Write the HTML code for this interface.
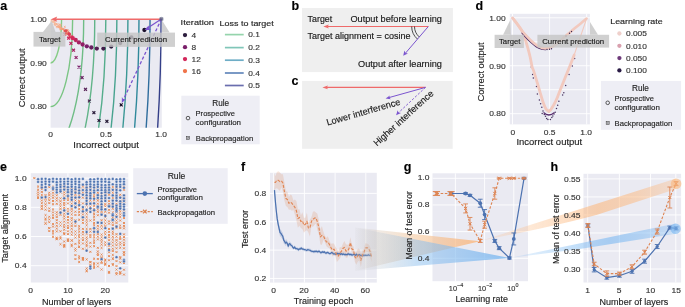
<!DOCTYPE html>
<html><head><meta charset="utf-8"><style>
html,body{margin:0;padding:0;background:#fff;width:685px;height:307px;overflow:hidden}
svg{display:block;will-change:transform}
text{font-family:"Liberation Sans",sans-serif;stroke:currentColor;stroke-width:0.14px;paint-order:stroke}
</style></head><body>
<svg width="685" height="307" viewBox="0 0 685 307" font-family='"Liberation Sans", sans-serif'><defs><clipPath id="clipA"><rect x="50.6" y="19.0" width="111.20000000000002" height="108.7"/></clipPath><linearGradient id="gO1" gradientUnits="userSpaceOnUse" x1="355" y1="0" x2="480" y2="0"><stop offset="0" stop-color="#c0c0c0" stop-opacity="0.04"/><stop offset="0.16" stop-color="#d4c4b4" stop-opacity="0.32"/><stop offset="0.45" stop-color="#f2c294" stop-opacity="0.52"/><stop offset="1" stop-color="#fbb57a" stop-opacity="0.8"/></linearGradient><linearGradient id="gB1" gradientUnits="userSpaceOnUse" x1="355" y1="0" x2="510" y2="0"><stop offset="0" stop-color="#c0c0c0" stop-opacity="0.04"/><stop offset="0.14" stop-color="#c0c8d0" stop-opacity="0.3"/><stop offset="0.4" stop-color="#8cbfee" stop-opacity="0.5"/><stop offset="1" stop-color="#78b6f0" stop-opacity="0.8"/></linearGradient><linearGradient id="gO2" gradientUnits="userSpaceOnUse" x1="480" y1="0" x2="676" y2="0"><stop offset="0" stop-color="#fcb77c" stop-opacity="0.15"/><stop offset="0.35" stop-color="#fcb77c" stop-opacity="0.38"/><stop offset="0.6" stop-color="#fcb77c" stop-opacity="0.58"/><stop offset="0.8" stop-color="#fcb77c" stop-opacity="0.5"/><stop offset="1" stop-color="#fcb77c" stop-opacity="0.3"/></linearGradient><linearGradient id="gB2" gradientUnits="userSpaceOnUse" x1="510" y1="0" x2="676" y2="0"><stop offset="0" stop-color="#7ab8f2" stop-opacity="0.15"/><stop offset="0.35" stop-color="#7ab8f2" stop-opacity="0.42"/><stop offset="0.6" stop-color="#7ab8f2" stop-opacity="0.6"/><stop offset="0.8" stop-color="#7ab8f2" stop-opacity="0.5"/><stop offset="1" stop-color="#7ab8f2" stop-opacity="0.3"/></linearGradient></defs><rect x="50.60" y="19.00" width="111.20" height="108.70" fill="#EAEAF2" />
<g clip-path="url(#clipA)"><ellipse cx="50.50" cy="19.40" rx="11.06" ry="43.60" fill="none" stroke="#86cc86" stroke-width="1.4"/><ellipse cx="50.50" cy="19.40" rx="22.12" ry="87.20" fill="none" stroke="#7bc584" stroke-width="1.4"/><ellipse cx="50.50" cy="19.40" rx="33.18" ry="130.80" fill="none" stroke="#6fbd86" stroke-width="1.4"/><ellipse cx="50.50" cy="19.40" rx="44.24" ry="174.40" fill="none" stroke="#62b489" stroke-width="1.4"/><ellipse cx="50.50" cy="19.40" rx="55.30" ry="218.00" fill="none" stroke="#55ad8c" stroke-width="1.4"/><ellipse cx="50.50" cy="19.40" rx="66.36" ry="261.60" fill="none" stroke="#48a38f" stroke-width="1.4"/><ellipse cx="50.50" cy="19.40" rx="77.42" ry="305.20" fill="none" stroke="#3b9895" stroke-width="1.4"/><ellipse cx="50.50" cy="19.40" rx="88.48" ry="348.80" fill="none" stroke="#30899b" stroke-width="1.4"/><ellipse cx="50.50" cy="19.40" rx="99.54" ry="392.40" fill="none" stroke="#2f6d9d" stroke-width="1.4"/><ellipse cx="50.50" cy="19.40" rx="110.60" ry="436.00" fill="none" stroke="#343f88" stroke-width="1.4"/></g>
<g clip-path="url(#clipA)"><path d="M63.78,30.11L65.58,31.91M63.78,31.91L65.58,30.11" stroke="#f28961" stroke-width="0.8" fill="none" stroke-opacity="0.85"/><path d="M67.41,30.39L69.21,32.19M67.41,32.19L69.21,30.39" stroke="#f0784e" stroke-width="0.8" fill="none" stroke-opacity="0.85"/><path d="M53.54,17.15L55.34,18.95M53.54,18.95L55.34,17.15" stroke="#f8be9d" stroke-width="0.8" fill="none" stroke-opacity="0.85"/><circle cx="69.27" cy="36.12" r="0.95" fill="#e35251" fill-opacity="0.85"/><path d="M60.75,27.63L62.55,29.43M60.75,29.43L62.55,27.63" stroke="#f5a17b" stroke-width="0.8" fill="none" stroke-opacity="0.85"/><circle cx="50.92" cy="21.18" r="0.95" fill="#f8bf9f" fill-opacity="0.85"/><circle cx="56.65" cy="26.62" r="0.95" fill="#f6ad89" fill-opacity="0.85"/><circle cx="68.56" cy="33.12" r="0.95" fill="#ed6c4c" fill-opacity="0.85"/><path d="M63.56,30.14L65.36,31.94M63.56,31.94L65.36,30.14" stroke="#f28a62" stroke-width="0.8" fill="none" stroke-opacity="0.85"/><circle cx="56.44" cy="23.95" r="0.95" fill="#f6b18f" fill-opacity="0.85"/><path d="M69.79,36.58L71.59,38.38M69.79,38.38L71.59,36.58" stroke="#dc3f55" stroke-width="0.8" fill="none" stroke-opacity="0.85"/><path d="M62.63,28.22L64.43,30.02M62.63,30.02L64.43,28.22" stroke="#f4966f" stroke-width="0.8" fill="none" stroke-opacity="0.85"/><path d="M54.25,24.31L56.05,26.11M54.25,26.11L56.05,24.31" stroke="#f6b28f" stroke-width="0.8" fill="none" stroke-opacity="0.85"/><circle cx="70.06" cy="34.97" r="0.95" fill="#e45451" fill-opacity="0.85"/><circle cx="59.31" cy="26.91" r="0.95" fill="#f6a883" fill-opacity="0.85"/><path d="M57.04,25.15L58.84,26.95M57.04,26.95L58.84,25.15" stroke="#f6ac88" stroke-width="0.8" fill="none" stroke-opacity="0.85"/><circle cx="52.06" cy="19.32" r="0.95" fill="#f8c0a0" fill-opacity="0.85"/><circle cx="68.92" cy="33.50" r="0.95" fill="#eb674d" fill-opacity="0.85"/><circle cx="59.99" cy="24.33" r="0.95" fill="#f6ab87" fill-opacity="0.85"/><circle cx="70.90" cy="36.98" r="0.95" fill="#dd4055" fill-opacity="0.85"/><path d="M65.96,32.39L67.76,34.19M65.96,34.19L67.76,32.39" stroke="#f0764c" stroke-width="0.8" fill="none" stroke-opacity="0.85"/><path d="M58.89,25.67L60.69,27.47M58.89,27.47L60.69,25.67" stroke="#f6a883" stroke-width="0.8" fill="none" stroke-opacity="0.85"/><path d="M50.47,19.54L52.27,21.34M50.47,21.34L52.27,19.54" stroke="#f8bf9f" stroke-width="0.8" fill="none" stroke-opacity="0.85"/><path d="M55.14,22.95L56.94,24.75M55.14,24.75L56.94,22.95" stroke="#f7b290" stroke-width="0.8" fill="none" stroke-opacity="0.85"/><circle cx="69.50" cy="36.92" r="0.95" fill="#e14b52" fill-opacity="0.85"/><path d="M62.12,28.23L63.92,30.03M62.12,30.03L63.92,28.23" stroke="#f49872" stroke-width="0.8" fill="none" stroke-opacity="0.85"/><path d="M53.40,21.06L55.20,22.86M53.40,22.86L55.20,21.06" stroke="#f7b897" stroke-width="0.8" fill="none" stroke-opacity="0.85"/><path d="M53.25,17.86L55.05,19.66M53.25,19.66L55.05,17.86" stroke="#f8bd9d" stroke-width="0.8" fill="none" stroke-opacity="0.85"/><path d="M53.64,20.02L55.44,21.82M53.64,21.82L55.44,20.02" stroke="#f7b998" stroke-width="0.8" fill="none" stroke-opacity="0.85"/><path d="M57.24,26.49L59.04,28.29M57.24,28.29L59.04,26.49" stroke="#f6a985" stroke-width="0.8" fill="none" stroke-opacity="0.85"/><circle cx="63.41" cy="29.47" r="0.95" fill="#f4956e" fill-opacity="0.85"/><circle cx="52.91" cy="22.16" r="0.95" fill="#f7ba99" fill-opacity="0.85"/><circle cx="65.32" cy="32.77" r="0.95" fill="#f17f56" fill-opacity="0.85"/><path d="M70.37,36.08L72.17,37.88M70.37,37.88L72.17,36.08" stroke="#db3d55" stroke-width="0.8" fill="none" stroke-opacity="0.85"/><path d="M59.45,26.62L61.25,28.42M59.45,28.42L61.25,26.62" stroke="#f5a580" stroke-width="0.8" fill="none" stroke-opacity="0.85"/><circle cx="60.26" cy="29.58" r="0.95" fill="#f5a27d" fill-opacity="0.85"/><circle cx="52.89" cy="21.13" r="0.95" fill="#f7bc9b" fill-opacity="0.85"/><circle cx="68.69" cy="34.49" r="0.95" fill="#e9624e" fill-opacity="0.85"/><path d="M64.57,33.29L66.37,35.09M64.57,35.09L66.37,33.29" stroke="#f1794f" stroke-width="0.8" fill="none" stroke-opacity="0.85"/><circle cx="54.63" cy="21.52" r="0.95" fill="#f7b897" fill-opacity="0.85"/><circle cx="54.79" cy="23.23" r="0.95" fill="#f7b593" fill-opacity="0.85"/><path d="M71.18,35.61L72.98,37.41M71.18,37.41L72.98,35.61" stroke="#da3a56" stroke-width="0.8" fill="none" stroke-opacity="0.85"/><path d="M71.12,34.84L72.92,36.64M71.12,36.64L72.92,34.84" stroke="#dc4055" stroke-width="0.8" fill="none" stroke-opacity="0.85"/><circle cx="61.57" cy="29.00" r="0.95" fill="#f59f79" fill-opacity="0.85"/><path d="M58.99,27.05L60.79,28.85M58.99,28.85L60.79,27.05" stroke="#f5a580" stroke-width="0.8" fill="none" stroke-opacity="0.85"/><path d="M69.21,36.42L71.01,38.22M69.21,38.22L71.01,36.42" stroke="#de4454" stroke-width="0.8" fill="none" stroke-opacity="0.85"/><circle cx="62.45" cy="28.80" r="0.95" fill="#f49c76" fill-opacity="0.85"/><path d="M66.33,33.16L68.13,34.96M66.33,34.96L68.13,33.16" stroke="#ee704b" stroke-width="0.8" fill="none" stroke-opacity="0.85"/><path d="M58.33,26.12L60.13,27.92M58.33,27.92L60.13,26.12" stroke="#f6a883" stroke-width="0.8" fill="none" stroke-opacity="0.85"/><path d="M65.92,29.24L67.72,31.04M65.92,31.04L67.72,29.24" stroke="#f2835a" stroke-width="0.8" fill="none" stroke-opacity="0.85"/><circle cx="59.80" cy="26.45" r="0.95" fill="#f6a883" fill-opacity="0.85"/><path d="M67.10,31.85L68.90,33.65M67.10,33.65L68.90,31.85" stroke="#f0734a" stroke-width="0.8" fill="none" stroke-opacity="0.85"/><path d="M56.13,25.87L57.93,27.67M56.13,27.67L57.93,25.87" stroke="#f6ac88" stroke-width="0.8" fill="none" stroke-opacity="0.85"/><path d="M51.48,18.55L53.28,20.35M51.48,20.35L53.28,18.55" stroke="#f8bf9f" stroke-width="0.8" fill="none" stroke-opacity="0.85"/><path d="M56.88,23.25L58.68,25.05M56.88,25.05L58.68,23.25" stroke="#f6af8b" stroke-width="0.8" fill="none" stroke-opacity="0.85"/><path d="M65.00,29.64L66.80,31.44M65.00,31.44L66.80,29.64" stroke="#f2865d" stroke-width="0.8" fill="none" stroke-opacity="0.85"/><path d="M59.26,24.52L61.06,26.32M59.26,26.32L61.06,24.52" stroke="#f6a984" stroke-width="0.8" fill="none" stroke-opacity="0.85"/><path d="M59.55,24.29L61.35,26.09M59.55,26.09L61.35,24.29" stroke="#f6a984" stroke-width="0.8" fill="none" stroke-opacity="0.85"/><path d="M69.14,33.22L70.94,35.02M69.14,35.02L70.94,33.22" stroke="#e65a4f" stroke-width="0.8" fill="none" stroke-opacity="0.85"/><path d="M63.89,25.97L65.69,27.77M63.89,27.77L65.69,25.97" stroke="#f49973" stroke-width="0.8" fill="none" stroke-opacity="0.85"/><circle cx="54.51" cy="24.29" r="0.95" fill="#f7b492" fill-opacity="0.85"/><path d="M66.71,29.37L68.51,31.17M66.71,31.17L68.51,29.37" stroke="#f17f56" stroke-width="0.8" fill="none" stroke-opacity="0.85"/><path d="M64.99,32.76L66.79,34.56M64.99,34.56L66.79,32.76" stroke="#f17950" stroke-width="0.8" fill="none" stroke-opacity="0.85"/><circle cx="64.07" cy="33.30" r="0.95" fill="#f2835a" fill-opacity="0.85"/><path d="M63.52,30.42L65.32,32.22M63.52,32.22L65.32,30.42" stroke="#f28961" stroke-width="0.8" fill="none" stroke-opacity="0.85"/><circle cx="53.60" cy="18.93" r="0.95" fill="#f8be9e" fill-opacity="0.85"/><path d="M60.58,26.72L62.38,28.52M60.58,28.52L62.38,26.72" stroke="#f5a37e" stroke-width="0.8" fill="none" stroke-opacity="0.85"/><circle cx="65.24" cy="30.67" r="0.95" fill="#f28860" fill-opacity="0.85"/><circle cx="61.67" cy="28.60" r="0.95" fill="#f5a17b" fill-opacity="0.85"/><circle cx="58.40" cy="26.19" r="0.95" fill="#f6ab86" fill-opacity="0.85"/><path d="M119.75,103.45L122.65,106.35M119.75,106.35L122.65,103.45" stroke="#1b102b" stroke-width="1.2" fill="none"/><path d="M105.45,119.85L108.35,122.75M105.45,122.75L108.35,119.85" stroke="#211532" stroke-width="1.2" fill="none"/><path d="M97.55,119.05L100.45,121.95M97.55,121.95L100.45,119.05" stroke="#271a38" stroke-width="1.2" fill="none"/><path d="M92.45,111.25L95.35,114.15M92.45,114.15L95.35,111.25" stroke="#2d1e3e" stroke-width="1.2" fill="none"/><path d="M87.95,99.55L90.85,102.45M87.95,102.45L90.85,99.55" stroke="#401e49" stroke-width="1.2" fill="none"/><path d="M84.05,87.85L86.95,90.75M84.05,90.75L86.95,87.85" stroke="#541e54" stroke-width="1.2" fill="none"/><path d="M80.65,76.15L83.55,79.05M80.65,79.05L83.55,76.15" stroke="#671f5f" stroke-width="1.2" fill="none"/><path d="M77.55,65.65L80.45,68.55M77.55,68.55L80.45,65.65" stroke="#7a1f6a" stroke-width="1.2" fill="none"/><path d="M74.65,56.05L77.55,58.95M74.65,58.95L77.55,56.05" stroke="#902166" stroke-width="1.2" fill="none"/><path d="M72.05,48.75L74.95,51.65M72.05,51.65L74.95,48.75" stroke="#a62362" stroke-width="1.2" fill="none"/><path d="M69.45,41.95L72.35,44.85M69.45,44.85L72.35,41.95" stroke="#bd255e" stroke-width="1.2" fill="none"/><path d="M67.15,36.75L70.05,39.65M67.15,39.65L70.05,36.75" stroke="#d3275a" stroke-width="1.2" fill="none"/><path d="M63.34,32.59L66.24,35.49M63.34,35.49L66.24,32.59" stroke="#da3a56" stroke-width="1.2" fill="none"/><circle cx="144.40" cy="30.00" r="2.15" fill="#1b102b"/><circle cx="131.40" cy="37.40" r="2.15" fill="#211532"/><circle cx="120.20" cy="43.00" r="2.15" fill="#271a38"/><circle cx="111.20" cy="46.60" r="2.15" fill="#2d1e3e"/><circle cx="103.40" cy="48.60" r="2.15" fill="#401e49"/><circle cx="96.80" cy="48.60" r="2.15" fill="#541e54"/><circle cx="91.30" cy="47.50" r="2.15" fill="#671f5f"/><circle cx="86.80" cy="46.30" r="2.15" fill="#7a1f6a"/><circle cx="82.60" cy="44.50" r="2.15" fill="#902166"/><circle cx="78.90" cy="42.40" r="2.15" fill="#a62362"/><circle cx="75.70" cy="40.00" r="2.15" fill="#bd255e"/><circle cx="72.80" cy="38.20" r="2.15" fill="#d3275a"/><circle cx="69.10" cy="34.12" r="1.8" fill="#da3a56"/><circle cx="65.66" cy="31.10" r="1.8" fill="#e24e52"/></g>
<line x1="56.00" y1="19.20" x2="161.40" y2="19.20" stroke="#ef6a6a" stroke-width="1.4" />
<path d="M50.9,19.2 L57.2,16.6 L56.0,19.2 L57.2,21.8 Z" fill="#ef6a6a" />
<line x1="161.40" y1="19.00" x2="146.50" y2="28.70" stroke="#7b55cf" stroke-width="1.3" />
<path d="M144.6,29.9 L148.6,25.6 L149.0,28.4 L151.3,29.9 Z" fill="#7b55cf" />
<line x1="161.40" y1="19.00" x2="123.00" y2="100.50" stroke="#7b55cf" stroke-width="1.3" stroke-dasharray="3.2,2"/>
<path d="M121.8,102.9 L121.9,97.0 L123.4,99.5 L126.2,99.0 Z" fill="#7b55cf" />
<path d="M160.10,17.70 L162.70,20.30 M160.10,20.30 L162.70,17.70" fill="none" stroke="#555a7a" stroke-width="1.0" />
<circle cx="161.40" cy="19.00" r="1.6" fill="none" stroke="#555a7a" stroke-width="0.8"/>
<path d="M43.0,32.0 L51.7,20.8 L55.5,32.0 Z" fill="rgba(198,198,198,0.82)" />
<rect x="33.50" y="31.90" width="31.90" height="14.70" fill="rgba(198,198,198,0.82)" />
<path d="M162.0,32.6 L162.0,20.2 L169.6,32.6 Z" fill="rgba(198,198,198,0.82)" />
<rect x="97.20" y="32.60" width="77.80" height="14.30" fill="rgba(198,198,198,0.82)" />
<circle cx="185.00" cy="35.10" r="2.15" fill="#2d1e3e" />
<circle cx="185.00" cy="47.20" r="2.15" fill="#7a1f6a" />
<circle cx="185.00" cy="59.10" r="2.15" fill="#d3275a" />
<circle cx="185.00" cy="71.10" r="2.15" fill="#f0744a" />
<line x1="224.90" y1="34.60" x2="243.70" y2="34.60" stroke="#95d4ac" stroke-width="1.7" />
<line x1="224.90" y1="47.60" x2="243.70" y2="47.60" stroke="#80c6b8" stroke-width="1.7" />
<line x1="224.90" y1="60.20" x2="243.70" y2="60.20" stroke="#6eadc6" stroke-width="1.7" />
<line x1="224.90" y1="73.00" x2="243.70" y2="73.00" stroke="#6287bb" stroke-width="1.7" />
<line x1="224.90" y1="85.50" x2="243.70" y2="85.50" stroke="#6a6eae" stroke-width="1.7" />
<rect x="181.30" y="95.70" width="78.40" height="48.60" fill="#eeeef5" />
<circle cx="188.00" cy="118.10" r="1.8" fill="none" stroke="#333" stroke-width="0.8"/>
<rect x="186.60" y="136.40" width="3.00" height="3.00" fill="none" stroke="#444" stroke-width="0.6"/>
<path d="M187.10,136.90 L189.10,138.90 M187.10,138.90 L189.10,136.90" fill="none" stroke="#444" stroke-width="0.5" />
<rect x="302.00" y="8.00" width="150.90" height="64.10" fill="#efefef" />
<line x1="327.50" y1="26.50" x2="428.30" y2="26.50" stroke="#ef6a6a" stroke-width="1.1" />
<path d="M323.3,26.5 L328.8,24.6 L327.8,26.5 L328.8,28.4 Z" fill="#ef6a6a" />
<line x1="428.30" y1="26.50" x2="405.60" y2="53.00" stroke="#7b55cf" stroke-width="1.0" />
<path d="M403.2,55.8 L404.4,50.6 L405.5,52.9 L408.0,53.5 Z" fill="#7b55cf" />
<path d="M419.25,36.91 A13.8,13.8 0 0 1 414.50,26.50" fill="none" stroke="#222" stroke-width="0.8" />
<path d="M417.41,39.03 A16.6,16.6 0 0 1 411.70,26.50" fill="none" stroke="#222" stroke-width="0.8" />
<rect x="302.10" y="80.90" width="150.60" height="67.90" fill="#efefef" />
<line x1="326.50" y1="87.40" x2="425.50" y2="87.40" stroke="#ef6a6a" stroke-width="1.1" />
<path d="M322.4,87.4 L327.9,85.5 L326.9,87.4 L327.9,89.3 Z" fill="#ef6a6a" />
<line x1="425.50" y1="87.40" x2="388.60" y2="97.70" stroke="#7b55cf" stroke-width="1.0" />
<path d="M385.6,98.6 L389.9,95.4 L389.2,97.6 L390.8,99.3 Z" fill="#7b55cf" />
<line x1="425.50" y1="87.40" x2="398.40" y2="112.80" stroke="#7b55cf" stroke-width="0.9" stroke-dasharray="2.4,1.6"/>
<path d="M396.1,115.2 L397.6,110.3 L398.5,112.6 L401.0,112.9 Z" fill="#7b55cf" />
<rect x="509.80" y="13.80" width="80.10" height="110.60" fill="#EAEAF2" />
<line x1="512.50" y1="13.80" x2="512.50" y2="124.40" stroke="#ffffff" stroke-width="0.9" />
<line x1="549.60" y1="13.80" x2="549.60" y2="124.40" stroke="#ffffff" stroke-width="0.9" />
<line x1="586.70" y1="13.80" x2="586.70" y2="124.40" stroke="#ffffff" stroke-width="0.9" />
<line x1="509.80" y1="113.70" x2="589.90" y2="113.70" stroke="#ffffff" stroke-width="0.9" />
<line x1="509.80" y1="89.73" x2="589.90" y2="89.73" stroke="#ffffff" stroke-width="0.9" />
<line x1="509.80" y1="65.75" x2="589.90" y2="65.75" stroke="#ffffff" stroke-width="0.9" />
<line x1="509.80" y1="41.78" x2="589.90" y2="41.78" stroke="#ffffff" stroke-width="0.9" />
<line x1="509.80" y1="17.80" x2="589.90" y2="17.80" stroke="#ffffff" stroke-width="0.9" />
<circle cx="531.30" cy="67.00" r="0.75" fill="#4a3462" />
<circle cx="532.60" cy="74.40" r="0.75" fill="#4a3462" />
<circle cx="533.30" cy="78.00" r="0.75" fill="#4a3462" />
<circle cx="536.50" cy="86.60" r="0.75" fill="#4a3462" />
<circle cx="537.40" cy="93.90" r="0.75" fill="#4a3462" />
<circle cx="539.40" cy="100.00" r="0.75" fill="#4a3462" />
<circle cx="540.60" cy="103.70" r="0.75" fill="#4a3462" />
<circle cx="541.80" cy="107.30" r="0.75" fill="#4a3462" />
<circle cx="543.00" cy="111.00" r="0.75" fill="#4a3462" />
<circle cx="544.30" cy="114.60" r="0.75" fill="#4a3462" />
<circle cx="545.50" cy="116.30" r="0.75" fill="#4a3462" />
<circle cx="546.60" cy="118.60" r="0.75" fill="#4a3462" />
<circle cx="547.90" cy="119.50" r="0.75" fill="#4a3462" />
<circle cx="550.40" cy="119.50" r="0.75" fill="#4a3462" />
<circle cx="551.80" cy="117.60" r="0.75" fill="#4a3462" />
<circle cx="552.80" cy="115.90" r="0.75" fill="#4a3462" />
<circle cx="555.20" cy="112.20" r="0.75" fill="#4a3462" />
<circle cx="556.50" cy="108.50" r="0.75" fill="#4a3462" />
<circle cx="557.70" cy="105.30" r="0.75" fill="#4a3462" />
<circle cx="558.90" cy="101.20" r="0.75" fill="#4a3462" />
<circle cx="562.60" cy="95.10" r="0.75" fill="#4a3462" />
<circle cx="563.80" cy="92.70" r="0.75" fill="#4a3462" />
<circle cx="565.70" cy="85.40" r="0.75" fill="#4a3462" />
<circle cx="569.10" cy="74.40" r="0.75" fill="#4a3462" />
<circle cx="572.30" cy="65.90" r="0.75" fill="#4a3462" />
<circle cx="574.60" cy="58.50" r="0.75" fill="#4a3462" />
<circle cx="542.20" cy="113.50" r="0.75" fill="#4a3462" />
<circle cx="554.00" cy="114.00" r="0.75" fill="#4a3462" />
<path d="M512.60,18.00 C513.50,19.17 516.33,22.63 518.00,25.00 C519.67,27.37 521.38,29.78 522.60,32.20 C523.82,34.62 524.40,36.75 525.30,39.50 C526.20,42.25 527.17,45.65 528.00,48.70 C528.83,51.75 529.62,54.77 530.30,57.80 C530.98,60.83 531.57,64.80 532.10,66.90 C532.63,69.00 532.73,68.08 533.50,70.40 C534.27,72.72 535.65,77.32 536.70,80.80 C537.75,84.28 538.77,87.82 539.80,91.30 C540.83,94.78 541.87,98.75 542.90,101.70 C543.93,104.65 545.00,107.38 546.00,109.00 C547.00,110.62 548.42,111.00 548.90,111.40" fill="none" stroke="#f2c9be" stroke-width="2.8" stroke-linecap="round"/>
<path d="M574.20,55.00 C573.45,56.90 571.22,62.60 569.70,66.40 C568.18,70.20 566.63,74.00 565.10,77.80 C563.57,81.60 562.02,85.38 560.50,89.20 C558.98,93.02 557.52,97.45 556.00,100.70 C554.48,103.95 552.58,106.92 551.40,108.70 C550.22,110.48 549.32,110.95 548.90,111.40" fill="none" stroke="#f2c9be" stroke-width="2.8" stroke-linecap="round"/>
<path d="M586.60,18.60 C585.30,22.40 580.87,35.33 578.80,41.40 C576.73,47.47 574.97,52.73 574.20,55.00" fill="none" stroke="#f2c9be" stroke-width="1.1" />
<path d="M543.5,112.5 Q548.8,117.5 554.5,112.5" fill="none" stroke="#5a3070" stroke-width="1.2" />
<path d="M522.60,31.50 C523.23,32.23 524.88,34.27 526.40,35.90 C527.92,37.53 529.90,39.67 531.70,41.30 C533.50,42.93 535.45,44.60 537.20,45.70 C538.95,46.80 540.65,47.47 542.20,47.90 C543.75,48.33 545.78,48.23 546.50,48.30" fill="none" stroke="#4a2a66" stroke-width="2.6" transform="translate(-0.4,0.6)"/>
<path d="M512.60,18.00 C513.42,19.08 515.83,22.25 517.50,24.50 C519.17,26.75 521.12,29.60 522.60,31.50 C524.08,33.40 524.88,34.27 526.40,35.90 C527.92,37.53 529.90,39.67 531.70,41.30 C533.50,42.93 535.45,44.60 537.20,45.70 C538.95,46.80 540.65,47.47 542.20,47.90 C543.75,48.33 545.12,48.38 546.50,48.30 C547.88,48.22 549.00,48.02 550.50,47.40 C552.00,46.78 553.58,45.97 555.50,44.60 C557.42,43.23 559.83,41.03 562.00,39.20 C564.17,37.37 566.33,35.45 568.50,33.60 C570.67,31.75 572.92,29.83 575.00,28.10 C577.08,26.37 579.07,24.78 581.00,23.20 C582.93,21.62 585.67,19.37 586.60,18.60" fill="none" stroke="#f2c9be" stroke-width="2.6" stroke-linecap="round"/>
<circle cx="566.00" cy="36.00" r="0.7" fill="#3a2550" />
<circle cx="569.50" cy="33.20" r="0.7" fill="#3a2550" />
<circle cx="571.50" cy="31.50" r="0.7" fill="#3a2550" />
<circle cx="547.00" cy="49.50" r="0.7" fill="#3a2550" />
<circle cx="549.50" cy="49.30" r="0.7" fill="#3a2550" />
<circle cx="551.50" cy="48.80" r="0.7" fill="#3a2550" />
<rect x="494.60" y="34.80" width="29.30" height="13.20" fill="rgba(198,198,198,0.82)" />
<path d="M503.1,34.8 L510.3,20.0 L510.9,34.8 Z" fill="rgba(198,198,198,0.82)" />
<rect x="537.40" y="34.80" width="71.70" height="12.80" fill="rgba(198,198,198,0.82)" />
<path d="M590.0,34.8 L590.0,22.0 L598.0,34.8 Z" fill="rgba(198,198,198,0.82)" />
<circle cx="619.40" cy="33.50" r="2.15" fill="#efd0cb" />
<circle cx="619.40" cy="45.80" r="2.15" fill="#d9a0ae" />
<circle cx="619.40" cy="58.10" r="2.15" fill="#6e3a7a" />
<circle cx="619.40" cy="70.40" r="2.15" fill="#2a1b45" />
<rect x="600.90" y="80.90" width="80.20" height="48.90" fill="#eeeef5" />
<circle cx="607.70" cy="102.80" r="1.8" fill="none" stroke="#333" stroke-width="0.8"/>
<rect x="606.20" y="121.50" width="3.00" height="3.00" fill="none" stroke="#444" stroke-width="0.6"/>
<path d="M606.70,122.00 L608.70,124.00 M606.70,124.00 L608.70,122.00" fill="none" stroke="#444" stroke-width="0.5" />
<rect x="30.80" y="173.20" width="97.50" height="109.30" fill="#EAEAF2" />
<line x1="67.95" y1="173.20" x2="67.95" y2="282.50" stroke="#ffffff" stroke-width="0.9" />
<line x1="105.30" y1="173.20" x2="105.30" y2="282.50" stroke="#ffffff" stroke-width="0.9" />
<line x1="30.80" y1="265.70" x2="128.30" y2="265.70" stroke="#ffffff" stroke-width="0.9" />
<line x1="30.80" y1="236.50" x2="128.30" y2="236.50" stroke="#ffffff" stroke-width="0.9" />
<line x1="30.80" y1="207.30" x2="128.30" y2="207.30" stroke="#ffffff" stroke-width="0.9" />
<line x1="30.80" y1="178.10" x2="128.30" y2="178.10" stroke="#ffffff" stroke-width="0.9" />
<g stroke="#e68a55" stroke-width="1.0" fill="none"><path d="M33.38,177.15L35.29,179.05M33.38,179.05L35.29,177.15"/><path d="M37.12,185.63L39.02,187.53M37.12,187.53L39.02,185.63"/><path d="M37.12,188.83L39.02,190.73M37.12,190.73L39.02,188.83"/><path d="M37.12,191.53L39.02,193.43M37.12,193.43L39.02,191.53"/><path d="M37.12,193.70L39.02,195.60M37.12,195.60L39.02,193.70"/><path d="M37.12,196.97L39.02,198.87M37.12,198.87L39.02,196.97"/><path d="M37.12,196.38L39.02,198.28M37.12,198.28L39.02,196.38"/><path d="M40.85,186.20L42.76,188.10M40.85,188.10L42.76,186.20"/><path d="M40.85,188.28L42.76,190.18M40.85,190.18L42.76,188.28"/><path d="M40.85,191.01L42.76,192.91M40.85,192.91L42.76,191.01"/><path d="M40.85,194.02L42.76,195.92M40.85,195.92L42.76,194.02"/><path d="M40.85,196.59L42.76,198.49M40.85,198.49L42.76,196.59"/><path d="M40.85,199.51L42.76,201.41M40.85,201.41L42.76,199.51"/><path d="M40.85,202.22L42.76,204.12M40.85,204.12L42.76,202.22"/><path d="M40.85,205.10L42.76,207.00M40.85,207.00L42.76,205.10"/><path d="M40.85,207.59L42.76,209.49M40.85,209.49L42.76,207.59"/><path d="M40.85,207.74L42.76,209.64M40.85,209.64L42.76,207.74"/><path d="M44.59,186.07L46.49,187.97M44.59,187.97L46.49,186.07"/><path d="M44.59,188.73L46.49,190.63M44.59,190.63L46.49,188.73"/><path d="M44.59,194.20L46.49,196.10M44.59,196.10L46.49,194.20"/><path d="M44.59,197.87L46.49,199.77M44.59,199.77L46.49,197.87"/><path d="M44.59,200.38L46.49,202.28M44.59,202.28L46.49,200.38"/><path d="M44.59,203.34L46.49,205.24M44.59,205.24L46.49,203.34"/><path d="M44.59,205.62L46.49,207.52M44.59,207.52L46.49,205.62"/><path d="M44.59,208.73L46.49,210.63M44.59,210.63L46.49,208.73"/><path d="M44.59,214.25L46.49,216.15M44.59,216.15L46.49,214.25"/><path d="M44.59,217.54L46.49,219.44M44.59,219.44L46.49,217.54"/><path d="M44.59,222.30L46.49,224.20M44.59,224.20L46.49,222.30"/><path d="M44.59,222.71L46.49,224.61M44.59,224.61L46.49,222.71"/><path d="M44.59,218.88L46.49,220.78M44.59,220.78L46.49,218.88"/><path d="M48.33,186.23L50.23,188.13M48.33,188.13L50.23,186.23"/><path d="M48.33,191.78L50.23,193.68M48.33,193.68L50.23,191.78"/><path d="M48.33,194.07L50.23,195.97M48.33,195.97L50.23,194.07"/><path d="M48.33,196.69L50.23,198.59M48.33,198.59L50.23,196.69"/><path d="M48.33,199.26L50.23,201.16M48.33,201.16L50.23,199.26"/><path d="M48.33,202.14L50.23,204.04M48.33,204.04L50.23,202.14"/><path d="M48.33,207.44L50.23,209.34M48.33,209.34L50.23,207.44"/><path d="M48.33,210.04L50.23,211.94M48.33,211.94L50.23,210.04"/><path d="M48.33,215.80L50.23,217.70M48.33,217.70L50.23,215.80"/><path d="M48.33,218.51L50.23,220.41M48.33,220.41L50.23,218.51"/><path d="M48.33,221.31L50.23,223.21M48.33,223.21L50.23,221.31"/><path d="M48.33,227.31L50.23,229.21M48.33,229.21L50.23,227.31"/><path d="M48.33,230.10L50.23,232.00M48.33,232.00L50.23,230.10"/><path d="M48.33,227.20L50.23,229.10M48.33,229.10L50.23,227.20"/><path d="M52.06,185.77L53.96,187.67M52.06,187.67L53.96,185.77"/><path d="M52.06,188.93L53.96,190.83M52.06,190.83L53.96,188.93"/><path d="M52.06,191.81L53.96,193.71M52.06,193.71L53.96,191.81"/><path d="M52.06,194.51L53.96,196.41M52.06,196.41L53.96,194.51"/><path d="M52.06,196.84L53.96,198.74M52.06,198.74L53.96,196.84"/><path d="M52.06,200.03L53.96,201.93M52.06,201.93L53.96,200.03"/><path d="M52.06,203.30L53.96,205.20M52.06,205.20L53.96,203.30"/><path d="M52.06,208.55L53.96,210.45M52.06,210.45L53.96,208.55"/><path d="M52.06,211.48L53.96,213.38M52.06,213.38L53.96,211.48"/><path d="M52.06,214.41L53.96,216.31M52.06,216.31L53.96,214.41"/><path d="M52.06,216.98L53.96,218.88M52.06,218.88L53.96,216.98"/><path d="M52.06,223.16L53.96,225.06M52.06,225.06L53.96,223.16"/><path d="M52.06,225.65L53.96,227.55M52.06,227.55L53.96,225.65"/><path d="M52.06,235.83L53.96,237.73M52.06,237.73L53.96,235.83"/><path d="M52.06,230.25L53.96,232.15M52.06,232.15L53.96,230.25"/><path d="M52.06,232.52L53.96,234.42M52.06,234.42L53.96,232.52"/><path d="M55.80,189.15L57.70,191.05M55.80,191.05L57.70,189.15"/><path d="M55.80,194.36L57.70,196.26M55.80,196.26L57.70,194.36"/><path d="M55.80,197.30L57.70,199.20M55.80,199.20L57.70,197.30"/><path d="M55.80,199.59L57.70,201.49M55.80,201.49L57.70,199.59"/><path d="M55.80,202.90L57.70,204.80M55.80,204.80L57.70,202.90"/><path d="M55.80,211.36L57.70,213.26M55.80,213.26L57.70,211.36"/><path d="M55.80,213.59L57.70,215.49M55.80,215.49L57.70,213.59"/><path d="M55.80,216.09L57.70,217.99M55.80,217.99L57.70,216.09"/><path d="M55.80,219.18L57.70,221.08M55.80,221.08L57.70,219.18"/><path d="M55.80,221.87L57.70,223.77M55.80,223.77L57.70,221.87"/><path d="M55.80,224.85L57.70,226.75M55.80,226.75L57.70,224.85"/><path d="M55.80,227.67L57.70,229.57M55.80,229.57L57.70,227.67"/><path d="M55.80,230.46L57.70,232.36M55.80,232.36L57.70,230.46"/><path d="M55.80,238.32L57.70,240.22M55.80,240.22L57.70,238.32"/><path d="M55.80,236.59L57.70,238.49M55.80,238.49L57.70,236.59"/><path d="M55.80,237.68L57.70,239.58M55.80,239.58L57.70,237.68"/><path d="M59.53,185.57L61.43,187.47M59.53,187.47L61.43,185.57"/><path d="M59.53,189.13L61.43,191.03M59.53,191.03L61.43,189.13"/><path d="M59.53,191.53L61.43,193.43M59.53,193.43L61.43,191.53"/><path d="M59.53,197.43L61.43,199.33M59.53,199.33L61.43,197.43"/><path d="M59.53,200.20L61.43,202.10M59.53,202.10L61.43,200.20"/><path d="M59.53,202.75L61.43,204.65M59.53,204.65L61.43,202.75"/><path d="M59.53,205.38L61.43,207.28M59.53,207.28L61.43,205.38"/><path d="M59.53,207.93L61.43,209.83M59.53,209.83L61.43,207.93"/><path d="M59.53,210.76L61.43,212.66M59.53,212.66L61.43,210.76"/><path d="M59.53,213.85L61.43,215.75M59.53,215.75L61.43,213.85"/><path d="M59.53,221.55L61.43,223.45M59.53,223.45L61.43,221.55"/><path d="M59.53,224.59L61.43,226.49M59.53,226.49L61.43,224.59"/><path d="M59.53,230.35L61.43,232.25M59.53,232.25L61.43,230.35"/><path d="M59.53,237.65L61.43,239.55M59.53,239.55L61.43,237.65"/><path d="M59.53,236.13L61.43,238.03M59.53,238.03L61.43,236.13"/><path d="M59.53,243.27L61.43,245.17M59.53,245.17L61.43,243.27"/><path d="M63.27,185.60L65.17,187.50M63.27,187.50L65.17,185.60"/><path d="M63.27,188.27L65.17,190.17M63.27,190.17L65.17,188.27"/><path d="M63.27,191.40L65.17,193.30M63.27,193.30L65.17,191.40"/><path d="M63.27,193.61L65.17,195.51M63.27,195.51L65.17,193.61"/><path d="M63.27,196.38L65.17,198.28M63.27,198.28L65.17,196.38"/><path d="M63.27,199.13L65.17,201.03M63.27,201.03L65.17,199.13"/><path d="M63.27,202.05L65.17,203.95M63.27,203.95L65.17,202.05"/><path d="M63.27,204.21L65.17,206.11M63.27,206.11L65.17,204.21"/><path d="M63.27,206.97L65.17,208.87M63.27,208.87L65.17,206.97"/><path d="M63.27,210.25L65.17,212.15M63.27,212.15L65.17,210.25"/><path d="M63.27,212.73L65.17,214.63M63.27,214.63L65.17,212.73"/><path d="M63.27,215.33L65.17,217.23M63.27,217.23L65.17,215.33"/><path d="M63.27,217.64L65.17,219.54M63.27,219.54L65.17,217.64"/><path d="M63.27,220.66L65.17,222.56M63.27,222.56L65.17,220.66"/><path d="M63.27,223.78L65.17,225.68M63.27,225.68L65.17,223.78"/><path d="M63.27,226.18L65.17,228.08M63.27,228.08L65.17,226.18"/><path d="M63.27,228.78L65.17,230.68M63.27,230.68L65.17,228.78"/><path d="M63.27,232.19L65.17,234.09M63.27,234.09L65.17,232.19"/><path d="M63.27,240.57L65.17,242.47M63.27,242.47L65.17,240.57"/><path d="M63.27,245.87L65.17,247.77M63.27,247.77L65.17,245.87"/><path d="M63.27,233.23L65.17,235.13M63.27,235.13L65.17,233.23"/><path d="M63.27,244.73L65.17,246.63M63.27,246.63L65.17,244.73"/><path d="M63.27,243.90L65.17,245.80M63.27,245.80L65.17,243.90"/><path d="M67.00,186.21L68.90,188.11M67.00,188.11L68.90,186.21"/><path d="M67.00,189.03L68.90,190.93M67.00,190.93L68.90,189.03"/><path d="M67.00,191.35L68.90,193.25M67.00,193.25L68.90,191.35"/><path d="M67.00,194.07L68.90,195.97M67.00,195.97L68.90,194.07"/><path d="M67.00,196.89L68.90,198.79M67.00,198.79L68.90,196.89"/><path d="M67.00,199.22L68.90,201.12M67.00,201.12L68.90,199.22"/><path d="M67.00,202.48L68.90,204.38M67.00,204.38L68.90,202.48"/><path d="M67.00,207.76L68.90,209.66M67.00,209.66L68.90,207.76"/><path d="M67.00,210.39L68.90,212.29M67.00,212.29L68.90,210.39"/><path d="M67.00,213.11L68.90,215.01M67.00,215.01L68.90,213.11"/><path d="M67.00,216.08L68.90,217.98M67.00,217.98L68.90,216.08"/><path d="M67.00,218.97L68.90,220.87M67.00,220.87L68.90,218.97"/><path d="M67.00,221.71L68.90,223.61M67.00,223.61L68.90,221.71"/><path d="M67.00,224.77L68.90,226.67M67.00,226.67L68.90,224.77"/><path d="M67.00,227.04L68.90,228.94M67.00,228.94L68.90,227.04"/><path d="M67.00,230.36L68.90,232.26M67.00,232.26L68.90,230.36"/><path d="M67.00,233.16L68.90,235.06M67.00,235.06L68.90,233.16"/><path d="M67.00,239.24L68.90,241.14M67.00,241.14L68.90,239.24"/><path d="M67.00,238.27L68.90,240.17M67.00,240.17L68.90,238.27"/><path d="M67.00,240.02L68.90,241.92M67.00,241.92L68.90,240.02"/><path d="M70.73,186.28L72.64,188.18M70.73,188.18L72.64,186.28"/><path d="M70.73,188.45L72.64,190.35M70.73,190.35L72.64,188.45"/><path d="M70.73,191.81L72.64,193.71M70.73,193.71L72.64,191.81"/><path d="M70.73,194.69L72.64,196.59M70.73,196.59L72.64,194.69"/><path d="M70.73,196.92L72.64,198.82M70.73,198.82L72.64,196.92"/><path d="M70.73,199.73L72.64,201.63M70.73,201.63L72.64,199.73"/><path d="M70.73,202.60L72.64,204.50M70.73,204.50L72.64,202.60"/><path d="M70.73,205.45L72.64,207.35M70.73,207.35L72.64,205.45"/><path d="M70.73,208.04L72.64,209.94M70.73,209.94L72.64,208.04"/><path d="M70.73,210.46L72.64,212.36M70.73,212.36L72.64,210.46"/><path d="M70.73,213.50L72.64,215.40M70.73,215.40L72.64,213.50"/><path d="M70.73,217.18L72.64,219.08M70.73,219.08L72.64,217.18"/><path d="M70.73,219.45L72.64,221.35M70.73,221.35L72.64,219.45"/><path d="M70.73,222.52L72.64,224.42M70.73,224.42L72.64,222.52"/><path d="M70.73,225.03L72.64,226.93M70.73,226.93L72.64,225.03"/><path d="M70.73,227.78L72.64,229.68M70.73,229.68L72.64,227.78"/><path d="M70.73,230.83L72.64,232.73M70.73,232.73L72.64,230.83"/><path d="M70.73,233.72L72.64,235.62M70.73,235.62L72.64,233.72"/><path d="M70.73,243.86L72.64,245.76M70.73,245.76L72.64,243.86"/><path d="M70.73,239.73L72.64,241.63M70.73,241.63L72.64,239.73"/><path d="M70.73,239.34L72.64,241.24M70.73,241.24L72.64,239.34"/><path d="M70.73,245.05L72.64,246.95M70.73,246.95L72.64,245.05"/><path d="M74.47,188.43L76.37,190.33M74.47,190.33L76.37,188.43"/><path d="M74.47,190.91L76.37,192.81M74.47,192.81L76.37,190.91"/><path d="M74.47,193.93L76.37,195.83M74.47,195.83L76.37,193.93"/><path d="M74.47,196.84L76.37,198.74M74.47,198.74L76.37,196.84"/><path d="M74.47,199.56L76.37,201.46M74.47,201.46L76.37,199.56"/><path d="M74.47,202.18L76.37,204.08M74.47,204.08L76.37,202.18"/><path d="M74.47,205.44L76.37,207.34M74.47,207.34L76.37,205.44"/><path d="M74.47,210.75L76.37,212.65M74.47,212.65L76.37,210.75"/><path d="M74.47,214.05L76.37,215.95M74.47,215.95L76.37,214.05"/><path d="M74.47,219.38L76.37,221.28M74.47,221.28L76.37,219.38"/><path d="M74.47,222.32L76.37,224.22M74.47,224.22L76.37,222.32"/><path d="M74.47,225.09L76.37,226.99M74.47,226.99L76.37,225.09"/><path d="M74.47,230.52L76.37,232.42M74.47,232.42L76.37,230.52"/><path d="M74.47,233.57L76.37,235.47M74.47,235.47L76.37,233.57"/><path d="M74.47,236.60L76.37,238.50M74.47,238.50L76.37,236.60"/><path d="M74.47,249.56L76.37,251.46M74.47,251.46L76.37,249.56"/><path d="M74.47,247.64L76.37,249.54M74.47,249.54L76.37,247.64"/><path d="M74.47,258.10L76.37,260.00M74.47,260.00L76.37,258.10"/><path d="M74.47,242.92L76.37,244.82M74.47,244.82L76.37,242.92"/><path d="M74.47,254.16L76.37,256.06M74.47,256.06L76.37,254.16"/><path d="M78.20,186.05L80.11,187.95M78.20,187.95L80.11,186.05"/><path d="M78.20,188.80L80.11,190.70M78.20,190.70L80.11,188.80"/><path d="M78.20,191.34L80.11,193.24M78.20,193.24L80.11,191.34"/><path d="M78.20,194.57L80.11,196.47M78.20,196.47L80.11,194.57"/><path d="M78.20,197.23L80.11,199.13M78.20,199.13L80.11,197.23"/><path d="M78.20,200.22L80.11,202.12M78.20,202.12L80.11,200.22"/><path d="M78.20,202.31L80.11,204.21M78.20,204.21L80.11,202.31"/><path d="M78.20,205.00L80.11,206.90M78.20,206.90L80.11,205.00"/><path d="M78.20,207.98L80.11,209.88M78.20,209.88L80.11,207.98"/><path d="M78.20,211.00L80.11,212.90M78.20,212.90L80.11,211.00"/><path d="M78.20,213.85L80.11,215.75M78.20,215.75L80.11,213.85"/><path d="M78.20,218.80L80.11,220.70M78.20,220.70L80.11,218.80"/><path d="M78.20,225.31L80.11,227.21M78.20,227.21L80.11,225.31"/><path d="M78.20,227.72L80.11,229.62M78.20,229.62L80.11,227.72"/><path d="M78.20,230.66L80.11,232.56M78.20,232.56L80.11,230.66"/><path d="M78.20,233.83L80.11,235.73M78.20,235.73L80.11,233.83"/><path d="M78.20,236.24L80.11,238.14M78.20,238.14L80.11,236.24"/><path d="M78.20,239.67L80.11,241.57M78.20,241.57L80.11,239.67"/><path d="M78.20,242.28L80.11,244.18M78.20,244.18L80.11,242.28"/><path d="M78.20,261.06L80.11,262.96M78.20,262.96L80.11,261.06"/><path d="M78.20,257.36L80.11,259.26M78.20,259.26L80.11,257.36"/><path d="M78.20,245.82L80.11,247.72M78.20,247.72L80.11,245.82"/><path d="M78.20,245.81L80.11,247.71M78.20,247.71L80.11,245.81"/><path d="M78.20,255.48L80.11,257.38M78.20,257.38L80.11,255.48"/><path d="M81.94,185.72L83.84,187.62M81.94,187.62L83.84,185.72"/><path d="M81.94,188.66L83.84,190.56M81.94,190.56L83.84,188.66"/><path d="M81.94,191.68L83.84,193.58M81.94,193.58L83.84,191.68"/><path d="M81.94,196.72L83.84,198.62M81.94,198.62L83.84,196.72"/><path d="M81.94,202.49L83.84,204.39M81.94,204.39L83.84,202.49"/><path d="M81.94,208.14L83.84,210.04M81.94,210.04L83.84,208.14"/><path d="M81.94,211.03L83.84,212.93M81.94,212.93L83.84,211.03"/><path d="M81.94,213.53L83.84,215.43M81.94,215.43L83.84,213.53"/><path d="M81.94,216.37L83.84,218.27M81.94,218.27L83.84,216.37"/><path d="M81.94,219.21L83.84,221.11M81.94,221.11L83.84,219.21"/><path d="M81.94,221.94L83.84,223.84M81.94,223.84L83.84,221.94"/><path d="M81.94,227.93L83.84,229.83M81.94,229.83L83.84,227.93"/><path d="M81.94,230.99L83.84,232.89M81.94,232.89L83.84,230.99"/><path d="M81.94,233.52L83.84,235.42M81.94,235.42L83.84,233.52"/><path d="M81.94,236.66L83.84,238.56M81.94,238.56L83.84,236.66"/><path d="M81.94,239.16L83.84,241.06M81.94,241.06L83.84,239.16"/><path d="M81.94,242.53L83.84,244.43M81.94,244.43L83.84,242.53"/><path d="M81.94,247.82L83.84,249.72M81.94,249.72L83.84,247.82"/><path d="M81.94,258.05L83.84,259.95M81.94,259.95L83.84,258.05"/><path d="M81.94,257.13L83.84,259.03M81.94,259.03L83.84,257.13"/><path d="M81.94,257.17L83.84,259.07M81.94,259.07L83.84,257.17"/><path d="M81.94,258.92L83.84,260.82M81.94,260.82L83.84,258.92"/><path d="M85.67,186.27L87.58,188.17M85.67,188.17L87.58,186.27"/><path d="M85.67,188.57L87.58,190.47M85.67,190.47L87.58,188.57"/><path d="M85.67,190.82L87.58,192.72M85.67,192.72L87.58,190.82"/><path d="M85.67,193.81L87.58,195.71M85.67,195.71L87.58,193.81"/><path d="M85.67,196.23L87.58,198.13M85.67,198.13L87.58,196.23"/><path d="M85.67,199.06L87.58,200.96M85.67,200.96L87.58,199.06"/><path d="M85.67,202.24L87.58,204.14M85.67,204.14L87.58,202.24"/><path d="M85.67,204.51L87.58,206.41M85.67,206.41L87.58,204.51"/><path d="M85.67,207.68L87.58,209.58M85.67,209.58L87.58,207.68"/><path d="M85.67,210.28L87.58,212.18M85.67,212.18L87.58,210.28"/><path d="M85.67,212.71L87.58,214.61M85.67,214.61L87.58,212.71"/><path d="M85.67,215.99L87.58,217.89M85.67,217.89L87.58,215.99"/><path d="M85.67,218.95L87.58,220.85M85.67,220.85L87.58,218.95"/><path d="M85.67,221.51L87.58,223.41M85.67,223.41L87.58,221.51"/><path d="M85.67,224.29L87.58,226.19M85.67,226.19L87.58,224.29"/><path d="M85.67,227.99L87.58,229.89M85.67,229.89L87.58,227.99"/><path d="M85.67,232.86L87.58,234.76M85.67,234.76L87.58,232.86"/><path d="M85.67,236.41L87.58,238.31M85.67,238.31L87.58,236.41"/><path d="M85.67,238.53L87.58,240.43M85.67,240.43L87.58,238.53"/><path d="M85.67,241.26L87.58,243.16M85.67,243.16L87.58,241.26"/><path d="M85.67,245.13L87.58,247.03M85.67,247.03L87.58,245.13"/><path d="M85.67,270.17L87.58,272.07M85.67,272.07L87.58,270.17"/><path d="M85.67,258.47L87.58,260.37M85.67,260.37L87.58,258.47"/><path d="M85.67,248.83L87.58,250.73M85.67,250.73L87.58,248.83"/><path d="M85.67,243.87L87.58,245.77M85.67,245.77L87.58,243.87"/><path d="M85.67,267.46L87.58,269.36M85.67,269.36L87.58,267.46"/><path d="M85.67,269.63L87.58,271.53M85.67,271.53L87.58,269.63"/><path d="M89.41,185.98L91.31,187.88M89.41,187.88L91.31,185.98"/><path d="M89.41,188.62L91.31,190.52M89.41,190.52L91.31,188.62"/><path d="M89.41,191.52L91.31,193.42M89.41,193.42L91.31,191.52"/><path d="M89.41,194.43L91.31,196.33M89.41,196.33L91.31,194.43"/><path d="M89.41,196.93L91.31,198.83M89.41,198.83L91.31,196.93"/><path d="M89.41,199.68L91.31,201.58M89.41,201.58L91.31,199.68"/><path d="M89.41,202.69L91.31,204.59M89.41,204.59L91.31,202.69"/><path d="M89.41,205.65L91.31,207.55M89.41,207.55L91.31,205.65"/><path d="M89.41,208.31L91.31,210.21M89.41,210.21L91.31,208.31"/><path d="M89.41,210.90L91.31,212.80M89.41,212.80L91.31,210.90"/><path d="M89.41,219.55L91.31,221.45M89.41,221.45L91.31,219.55"/><path d="M89.41,227.99L91.31,229.89M89.41,229.89L91.31,227.99"/><path d="M89.41,230.70L91.31,232.60M89.41,232.60L91.31,230.70"/><path d="M89.41,234.09L91.31,235.99M89.41,235.99L91.31,234.09"/><path d="M89.41,236.15L91.31,238.05M89.41,238.05L91.31,236.15"/><path d="M89.41,241.87L91.31,243.77M89.41,243.77L91.31,241.87"/><path d="M89.41,264.00L91.31,265.90M89.41,265.90L91.31,264.00"/><path d="M89.41,261.03L91.31,262.93M89.41,262.93L91.31,261.03"/><path d="M89.41,261.45L91.31,263.35M89.41,263.35L91.31,261.45"/><path d="M89.41,245.61L91.31,247.51M89.41,247.51L91.31,245.61"/><path d="M89.41,250.86L91.31,252.76M89.41,252.76L91.31,250.86"/><path d="M93.14,186.00L95.05,187.90M93.14,187.90L95.05,186.00"/><path d="M93.14,188.99L95.05,190.89M93.14,190.89L95.05,188.99"/><path d="M93.14,191.37L95.05,193.27M93.14,193.27L95.05,191.37"/><path d="M93.14,193.65L95.05,195.55M93.14,195.55L95.05,193.65"/><path d="M93.14,196.11L95.05,198.01M93.14,198.01L95.05,196.11"/><path d="M93.14,198.94L95.05,200.84M93.14,200.84L95.05,198.94"/><path d="M93.14,201.76L95.05,203.66M93.14,203.66L95.05,201.76"/><path d="M93.14,204.83L95.05,206.73M93.14,206.73L95.05,204.83"/><path d="M93.14,207.97L95.05,209.87M93.14,209.87L95.05,207.97"/><path d="M93.14,210.45L95.05,212.35M93.14,212.35L95.05,210.45"/><path d="M93.14,213.20L95.05,215.10M93.14,215.10L95.05,213.20"/><path d="M93.14,215.81L95.05,217.71M93.14,217.71L95.05,215.81"/><path d="M93.14,218.72L95.05,220.62M93.14,220.62L95.05,218.72"/><path d="M93.14,221.99L95.05,223.89M93.14,223.89L95.05,221.99"/><path d="M93.14,224.35L95.05,226.25M93.14,226.25L95.05,224.35"/><path d="M93.14,227.71L95.05,229.61M93.14,229.61L95.05,227.71"/><path d="M93.14,230.50L95.05,232.40M93.14,232.40L95.05,230.50"/><path d="M93.14,233.71L95.05,235.61M93.14,235.61L95.05,233.71"/><path d="M93.14,236.44L95.05,238.34M93.14,238.34L95.05,236.44"/><path d="M93.14,239.58L95.05,241.48M93.14,241.48L95.05,239.58"/><path d="M93.14,241.84L95.05,243.74M93.14,243.74L95.05,241.84"/><path d="M93.14,245.22L95.05,247.12M93.14,247.12L95.05,245.22"/><path d="M93.14,257.76L95.05,259.66M93.14,259.66L95.05,257.76"/><path d="M93.14,262.72L95.05,264.62M93.14,264.62L95.05,262.72"/><path d="M93.14,265.36L95.05,267.26M93.14,267.26L95.05,265.36"/><path d="M93.14,262.58L95.05,264.48M93.14,264.48L95.05,262.58"/><path d="M93.14,266.82L95.05,268.72M93.14,268.72L95.05,266.82"/><path d="M96.88,186.29L98.78,188.19M96.88,188.19L98.78,186.29"/><path d="M96.88,188.85L98.78,190.75M96.88,190.75L98.78,188.85"/><path d="M96.88,191.89L98.78,193.79M96.88,193.79L98.78,191.89"/><path d="M96.88,194.32L98.78,196.22M96.88,196.22L98.78,194.32"/><path d="M96.88,197.75L98.78,199.65M96.88,199.65L98.78,197.75"/><path d="M96.88,199.69L98.78,201.59M96.88,201.59L98.78,199.69"/><path d="M96.88,202.78L98.78,204.68M96.88,204.68L98.78,202.78"/><path d="M96.88,205.74L98.78,207.64M96.88,207.64L98.78,205.74"/><path d="M96.88,208.65L98.78,210.55M96.88,210.55L98.78,208.65"/><path d="M96.88,210.89L98.78,212.79M96.88,212.79L98.78,210.89"/><path d="M96.88,214.31L98.78,216.21M96.88,216.21L98.78,214.31"/><path d="M96.88,221.84L98.78,223.74M96.88,223.74L98.78,221.84"/><path d="M96.88,224.92L98.78,226.82M96.88,226.82L98.78,224.92"/><path d="M96.88,227.65L98.78,229.55M96.88,229.55L98.78,227.65"/><path d="M96.88,229.90L98.78,231.80M96.88,231.80L98.78,229.90"/><path d="M96.88,233.03L98.78,234.93M96.88,234.93L98.78,233.03"/><path d="M96.88,235.73L98.78,237.63M96.88,237.63L98.78,235.73"/><path d="M96.88,238.49L98.78,240.39M96.88,240.39L98.78,238.49"/><path d="M96.88,246.89L98.78,248.79M96.88,248.79L98.78,246.89"/><path d="M96.88,252.53L98.78,254.43M96.88,254.43L98.78,252.53"/><path d="M96.88,262.49L98.78,264.39M96.88,264.39L98.78,262.49"/><path d="M96.88,254.13L98.78,256.03M96.88,256.03L98.78,254.13"/><path d="M96.88,258.03L98.78,259.93M96.88,259.93L98.78,258.03"/><path d="M96.88,265.53L98.78,267.43M96.88,267.43L98.78,265.53"/><path d="M96.88,250.45L98.78,252.35M96.88,252.35L98.78,250.45"/><path d="M100.61,185.83L102.52,187.73M100.61,187.73L102.52,185.83"/><path d="M100.61,193.52L102.52,195.42M100.61,195.42L102.52,193.52"/><path d="M100.61,196.66L102.52,198.56M100.61,198.56L102.52,196.66"/><path d="M100.61,199.75L102.52,201.65M100.61,201.65L102.52,199.75"/><path d="M100.61,202.81L102.52,204.71M100.61,204.71L102.52,202.81"/><path d="M100.61,205.35L102.52,207.25M100.61,207.25L102.52,205.35"/><path d="M100.61,208.21L102.52,210.11M100.61,210.11L102.52,208.21"/><path d="M100.61,210.98L102.52,212.88M100.61,212.88L102.52,210.98"/><path d="M100.61,213.69L102.52,215.59M100.61,215.59L102.52,213.69"/><path d="M100.61,219.26L102.52,221.16M100.61,221.16L102.52,219.26"/><path d="M100.61,222.06L102.52,223.96M100.61,223.96L102.52,222.06"/><path d="M100.61,224.79L102.52,226.69M100.61,226.69L102.52,224.79"/><path d="M100.61,227.61L102.52,229.51M100.61,229.51L102.52,227.61"/><path d="M100.61,233.66L102.52,235.56M100.61,235.56L102.52,233.66"/><path d="M100.61,236.24L102.52,238.14M100.61,238.14L102.52,236.24"/><path d="M100.61,238.78L102.52,240.68M100.61,240.68L102.52,238.78"/><path d="M100.61,241.13L102.52,243.03M100.61,243.03L102.52,241.13"/><path d="M100.61,243.70L102.52,245.60M100.61,245.60L102.52,243.70"/><path d="M100.61,246.97L102.52,248.87M100.61,248.87L102.52,246.97"/><path d="M100.61,256.35L102.52,258.25M100.61,258.25L102.52,256.35"/><path d="M100.61,260.55L102.52,262.45M100.61,262.45L102.52,260.55"/><path d="M100.61,268.53L102.52,270.43M100.61,270.43L102.52,268.53"/><path d="M100.61,257.07L102.52,258.97M100.61,258.97L102.52,257.07"/><path d="M100.61,262.01L102.52,263.91M100.61,263.91L102.52,262.01"/><path d="M100.61,253.66L102.52,255.56M100.61,255.56L102.52,253.66"/><path d="M104.35,188.78L106.25,190.68M104.35,190.68L106.25,188.78"/><path d="M104.35,191.56L106.25,193.46M104.35,193.46L106.25,191.56"/><path d="M104.35,194.45L106.25,196.35M104.35,196.35L106.25,194.45"/><path d="M104.35,199.72L106.25,201.62M104.35,201.62L106.25,199.72"/><path d="M104.35,203.15L106.25,205.05M104.35,205.05L106.25,203.15"/><path d="M104.35,205.29L106.25,207.19M104.35,207.19L106.25,205.29"/><path d="M104.35,208.15L106.25,210.05M104.35,210.05L106.25,208.15"/><path d="M104.35,210.85L106.25,212.75M104.35,212.75L106.25,210.85"/><path d="M104.35,213.82L106.25,215.72M104.35,215.72L106.25,213.82"/><path d="M104.35,216.46L106.25,218.36M104.35,218.36L106.25,216.46"/><path d="M104.35,219.44L106.25,221.34M104.35,221.34L106.25,219.44"/><path d="M104.35,222.49L106.25,224.39M104.35,224.39L106.25,222.49"/><path d="M104.35,225.18L106.25,227.08M104.35,227.08L106.25,225.18"/><path d="M104.35,230.73L106.25,232.63M104.35,232.63L106.25,230.73"/><path d="M104.35,233.30L106.25,235.20M104.35,235.20L106.25,233.30"/><path d="M104.35,236.56L106.25,238.46M104.35,238.46L106.25,236.56"/><path d="M104.35,241.47L106.25,243.37M104.35,243.37L106.25,241.47"/><path d="M104.35,244.02L106.25,245.92M104.35,245.92L106.25,244.02"/><path d="M104.35,262.97L106.25,264.87M104.35,264.87L106.25,262.97"/><path d="M104.35,263.77L106.25,265.67M104.35,265.67L106.25,263.77"/><path d="M104.35,262.52L106.25,264.42M104.35,264.42L106.25,262.52"/><path d="M104.35,258.63L106.25,260.53M104.35,260.53L106.25,258.63"/><path d="M104.35,259.75L106.25,261.65M104.35,261.65L106.25,259.75"/><path d="M108.08,185.86L109.98,187.76M108.08,187.76L109.98,185.86"/><path d="M108.08,188.75L109.98,190.65M108.08,190.65L109.98,188.75"/><path d="M108.08,191.57L109.98,193.47M108.08,193.47L109.98,191.57"/><path d="M108.08,193.83L109.98,195.73M108.08,195.73L109.98,193.83"/><path d="M108.08,196.94L109.98,198.84M108.08,198.84L109.98,196.94"/><path d="M108.08,200.20L109.98,202.10M108.08,202.10L109.98,200.20"/><path d="M108.08,202.84L109.98,204.74M108.08,204.74L109.98,202.84"/><path d="M108.08,205.65L109.98,207.55M108.08,207.55L109.98,205.65"/><path d="M108.08,208.90L109.98,210.80M108.08,210.80L109.98,208.90"/><path d="M108.08,211.76L109.98,213.66M108.08,213.66L109.98,211.76"/><path d="M108.08,220.40L109.98,222.30M108.08,222.30L109.98,220.40"/><path d="M108.08,222.71L109.98,224.61M108.08,224.61L109.98,222.71"/><path d="M108.08,228.05L109.98,229.95M108.08,229.95L109.98,228.05"/><path d="M108.08,230.94L109.98,232.84M108.08,232.84L109.98,230.94"/><path d="M108.08,234.01L109.98,235.91M108.08,235.91L109.98,234.01"/><path d="M108.08,236.34L109.98,238.24M108.08,238.24L109.98,236.34"/><path d="M108.08,239.23L109.98,241.13M108.08,241.13L109.98,239.23"/><path d="M108.08,242.54L109.98,244.44M108.08,244.44L109.98,242.54"/><path d="M108.08,244.84L109.98,246.74M108.08,246.74L109.98,244.84"/><path d="M108.08,248.08L109.98,249.98M108.08,249.98L109.98,248.08"/><path d="M108.08,255.17L109.98,257.07M108.08,257.07L109.98,255.17"/><path d="M108.08,251.36L109.98,253.26M108.08,253.26L109.98,251.36"/><path d="M108.08,259.31L109.98,261.21M108.08,261.21L109.98,259.31"/><path d="M108.08,270.89L109.98,272.79M108.08,272.79L109.98,270.89"/><path d="M108.08,265.03L109.98,266.93M108.08,266.93L109.98,265.03"/><path d="M108.08,271.90L109.98,273.80M108.08,273.80L109.98,271.90"/><path d="M111.82,186.02L113.72,187.92M111.82,187.92L113.72,186.02"/><path d="M111.82,189.02L113.72,190.92M111.82,190.92L113.72,189.02"/><path d="M111.82,191.74L113.72,193.64M111.82,193.64L113.72,191.74"/><path d="M111.82,197.02L113.72,198.92M111.82,198.92L113.72,197.02"/><path d="M111.82,202.98L113.72,204.88M111.82,204.88L113.72,202.98"/><path d="M111.82,205.38L113.72,207.28M111.82,207.28L113.72,205.38"/><path d="M111.82,207.81L113.72,209.71M111.82,209.71L113.72,207.81"/><path d="M111.82,211.49L113.72,213.39M111.82,213.39L113.72,211.49"/><path d="M111.82,216.42L113.72,218.32M111.82,218.32L113.72,216.42"/><path d="M111.82,218.64L113.72,220.54M111.82,220.54L113.72,218.64"/><path d="M111.82,221.59L113.72,223.49M111.82,223.49L113.72,221.59"/><path d="M111.82,224.10L113.72,226.00M111.82,226.00L113.72,224.10"/><path d="M111.82,227.28L113.72,229.18M111.82,229.18L113.72,227.28"/><path d="M111.82,230.74L113.72,232.64M111.82,232.64L113.72,230.74"/><path d="M111.82,232.91L113.72,234.81M111.82,234.81L113.72,232.91"/><path d="M111.82,235.85L113.72,237.75M111.82,237.75L113.72,235.85"/><path d="M111.82,238.61L113.72,240.51M111.82,240.51L113.72,238.61"/><path d="M111.82,241.54L113.72,243.44M111.82,243.44L113.72,241.54"/><path d="M111.82,244.56L113.72,246.46M111.82,246.46L113.72,244.56"/><path d="M111.82,247.76L113.72,249.66M111.82,249.66L113.72,247.76"/><path d="M111.82,257.50L113.72,259.40M111.82,259.40L113.72,257.50"/><path d="M111.82,257.88L113.72,259.78M111.82,259.78L113.72,257.88"/><path d="M111.82,263.14L113.72,265.04M111.82,265.04L113.72,263.14"/><path d="M111.82,263.94L113.72,265.84M111.82,265.84L113.72,263.94"/><path d="M111.82,254.00L113.72,255.90M111.82,255.90L113.72,254.00"/><path d="M111.82,250.06L113.72,251.96M111.82,251.96L113.72,250.06"/><path d="M115.55,185.58L117.45,187.48M115.55,187.48L117.45,185.58"/><path d="M115.55,188.50L117.45,190.40M115.55,190.40L117.45,188.50"/><path d="M115.55,194.47L117.45,196.37M115.55,196.37L117.45,194.47"/><path d="M115.55,196.92L117.45,198.82M115.55,198.82L117.45,196.92"/><path d="M115.55,200.03L117.45,201.93M115.55,201.93L117.45,200.03"/><path d="M115.55,202.83L117.45,204.73M115.55,204.73L117.45,202.83"/><path d="M115.55,205.57L117.45,207.47M115.55,207.47L117.45,205.57"/><path d="M115.55,208.27L117.45,210.17M115.55,210.17L117.45,208.27"/><path d="M115.55,210.89L117.45,212.79M115.55,212.79L117.45,210.89"/><path d="M115.55,213.64L117.45,215.54M115.55,215.54L117.45,213.64"/><path d="M115.55,216.60L117.45,218.50M115.55,218.50L117.45,216.60"/><path d="M115.55,219.57L117.45,221.47M115.55,221.47L117.45,219.57"/><path d="M115.55,222.01L117.45,223.91M115.55,223.91L117.45,222.01"/><path d="M115.55,224.95L117.45,226.85M115.55,226.85L117.45,224.95"/><path d="M115.55,227.20L117.45,229.10M115.55,229.10L117.45,227.20"/><path d="M115.55,233.17L117.45,235.07M115.55,235.07L117.45,233.17"/><path d="M115.55,235.72L117.45,237.62M115.55,237.62L117.45,235.72"/><path d="M115.55,239.10L117.45,241.00M115.55,241.00L117.45,239.10"/><path d="M115.55,241.55L117.45,243.45M115.55,243.45L117.45,241.55"/><path d="M115.55,244.21L117.45,246.11M115.55,246.11L117.45,244.21"/><path d="M115.55,247.37L117.45,249.27M115.55,249.27L117.45,247.37"/><path d="M115.55,273.38L117.45,275.28M115.55,275.28L117.45,273.38"/><path d="M115.55,260.13L117.45,262.03M115.55,262.03L117.45,260.13"/><path d="M115.55,265.11L117.45,267.01M115.55,267.01L117.45,265.11"/><path d="M115.55,271.99L117.45,273.89M115.55,273.89L117.45,271.99"/><path d="M115.55,251.16L117.45,253.06M115.55,253.06L117.45,251.16"/><path d="M115.55,268.59L117.45,270.49M115.55,270.49L117.45,268.59"/><path d="M119.29,186.25L121.19,188.15M119.29,188.15L121.19,186.25"/><path d="M119.29,193.82L121.19,195.72M119.29,195.72L121.19,193.82"/><path d="M119.29,197.31L121.19,199.21M119.29,199.21L121.19,197.31"/><path d="M119.29,200.23L121.19,202.13M119.29,202.13L121.19,200.23"/><path d="M119.29,202.48L121.19,204.38M119.29,204.38L121.19,202.48"/><path d="M119.29,205.57L121.19,207.47M119.29,207.47L121.19,205.57"/><path d="M119.29,208.52L121.19,210.42M119.29,210.42L121.19,208.52"/><path d="M119.29,210.61L121.19,212.51M119.29,212.51L121.19,210.61"/><path d="M119.29,213.42L121.19,215.32M119.29,215.32L121.19,213.42"/><path d="M119.29,216.00L121.19,217.90M119.29,217.90L121.19,216.00"/><path d="M119.29,219.57L121.19,221.47M119.29,221.47L121.19,219.57"/><path d="M119.29,224.61L121.19,226.51M119.29,226.51L121.19,224.61"/><path d="M119.29,227.06L121.19,228.96M119.29,228.96L121.19,227.06"/><path d="M119.29,235.99L121.19,237.89M119.29,237.89L121.19,235.99"/><path d="M119.29,238.04L121.19,239.94M119.29,239.94L121.19,238.04"/><path d="M119.29,241.54L121.19,243.44M119.29,243.44L121.19,241.54"/><path d="M119.29,243.60L121.19,245.50M119.29,245.50L121.19,243.60"/><path d="M119.29,246.75L121.19,248.65M119.29,248.65L121.19,246.75"/><path d="M119.29,261.42L121.19,263.32M119.29,263.32L121.19,261.42"/><path d="M119.29,272.80L121.19,274.70M119.29,274.70L121.19,272.80"/><path d="M119.29,271.70L121.19,273.60M119.29,273.60L121.19,271.70"/><path d="M119.29,256.18L121.19,258.08M119.29,258.08L121.19,256.18"/><path d="M119.29,257.73L121.19,259.63M119.29,259.63L121.19,257.73"/><path d="M119.29,271.26L121.19,273.16M119.29,273.16L121.19,271.26"/><path d="M123.02,185.87L124.92,187.77M123.02,187.77L124.92,185.87"/><path d="M123.02,188.89L124.92,190.79M123.02,190.79L124.92,188.89"/><path d="M123.02,194.31L124.92,196.21M123.02,196.21L124.92,194.31"/><path d="M123.02,197.65L124.92,199.55M123.02,199.55L124.92,197.65"/><path d="M123.02,200.44L124.92,202.34M123.02,202.34L124.92,200.44"/><path d="M123.02,202.86L124.92,204.76M123.02,204.76L124.92,202.86"/><path d="M123.02,206.07L124.92,207.97M123.02,207.97L124.92,206.07"/><path d="M123.02,209.14L124.92,211.04M123.02,211.04L124.92,209.14"/><path d="M123.02,211.56L124.92,213.46M123.02,213.46L124.92,211.56"/><path d="M123.02,214.10L124.92,216.00M123.02,216.00L124.92,214.10"/><path d="M123.02,217.03L124.92,218.93M123.02,218.93L124.92,217.03"/><path d="M123.02,222.06L124.92,223.96M123.02,223.96L124.92,222.06"/><path d="M123.02,224.98L124.92,226.88M123.02,226.88L124.92,224.98"/><path d="M123.02,227.44L124.92,229.34M123.02,229.34L124.92,227.44"/><path d="M123.02,233.37L124.92,235.27M123.02,235.27L124.92,233.37"/><path d="M123.02,236.12L124.92,238.02M123.02,238.02L124.92,236.12"/><path d="M123.02,238.77L124.92,240.67M123.02,240.67L124.92,238.77"/><path d="M123.02,241.67L124.92,243.57M123.02,243.57L124.92,241.67"/><path d="M123.02,244.08L124.92,245.98M123.02,245.98L124.92,244.08"/><path d="M123.02,247.37L124.92,249.27M123.02,249.27L124.92,247.37"/><path d="M123.02,253.93L124.92,255.83M123.02,255.83L124.92,253.93"/><path d="M123.02,273.64L124.92,275.54M123.02,275.54L124.92,273.64"/><path d="M123.02,262.13L124.92,264.03M123.02,264.03L124.92,262.13"/><path d="M123.02,251.20L124.92,253.10M123.02,253.10L124.92,251.20"/><path d="M123.02,251.78L124.92,253.68M123.02,253.68L124.92,251.78"/><path d="M123.02,268.78L124.92,270.68M123.02,270.68L124.92,268.78"/></g>
<g fill="#4c72b0" stroke="#ffffff" stroke-width="0.3"><circle cx="38.07" cy="179.22" r="1.38"/><circle cx="38.07" cy="181.96" r="1.38"/><circle cx="41.80" cy="178.95" r="1.38"/><circle cx="41.80" cy="182.00" r="1.38"/><circle cx="41.80" cy="184.88" r="1.38"/><circle cx="41.80" cy="187.57" r="1.38"/><circle cx="41.80" cy="197.54" r="1.38"/><circle cx="45.54" cy="178.86" r="1.38"/><circle cx="45.54" cy="181.68" r="1.38"/><circle cx="45.54" cy="184.04" r="1.38"/><circle cx="45.54" cy="187.15" r="1.38"/><circle cx="45.54" cy="190.03" r="1.38"/><circle cx="45.54" cy="197.10" r="1.38"/><circle cx="49.28" cy="179.50" r="1.38"/><circle cx="49.28" cy="181.81" r="1.38"/><circle cx="49.28" cy="184.85" r="1.38"/><circle cx="53.01" cy="178.84" r="1.38"/><circle cx="53.01" cy="181.74" r="1.38"/><circle cx="53.01" cy="187.71" r="1.38"/><circle cx="53.01" cy="189.02" r="1.38"/><circle cx="56.75" cy="179.08" r="1.38"/><circle cx="56.75" cy="182.19" r="1.38"/><circle cx="56.75" cy="184.99" r="1.38"/><circle cx="56.75" cy="187.57" r="1.38"/><circle cx="56.75" cy="189.79" r="1.38"/><circle cx="56.75" cy="192.41" r="1.38"/><circle cx="60.48" cy="179.06" r="1.38"/><circle cx="60.48" cy="181.72" r="1.38"/><circle cx="60.48" cy="184.74" r="1.38"/><circle cx="60.48" cy="186.91" r="1.38"/><circle cx="60.48" cy="189.90" r="1.38"/><circle cx="60.48" cy="191.44" r="1.38"/><circle cx="60.48" cy="212.67" r="1.38"/><circle cx="64.22" cy="179.10" r="1.38"/><circle cx="64.22" cy="181.83" r="1.38"/><circle cx="64.22" cy="183.95" r="1.38"/><circle cx="64.22" cy="186.54" r="1.38"/><circle cx="64.22" cy="189.60" r="1.38"/><circle cx="64.22" cy="198.33" r="1.38"/><circle cx="64.22" cy="210.38" r="1.38"/><circle cx="67.95" cy="178.84" r="1.38"/><circle cx="67.95" cy="181.54" r="1.38"/><circle cx="67.95" cy="184.08" r="1.38"/><circle cx="67.95" cy="187.17" r="1.38"/><circle cx="67.95" cy="189.82" r="1.38"/><circle cx="67.95" cy="192.18" r="1.38"/><circle cx="67.95" cy="195.77" r="1.38"/><circle cx="67.95" cy="196.03" r="1.38"/><circle cx="67.95" cy="213.86" r="1.38"/><circle cx="71.69" cy="179.31" r="1.38"/><circle cx="71.69" cy="181.91" r="1.38"/><circle cx="71.69" cy="184.73" r="1.38"/><circle cx="71.69" cy="186.78" r="1.38"/><circle cx="71.69" cy="189.88" r="1.38"/><circle cx="71.69" cy="191.92" r="1.38"/><circle cx="71.69" cy="194.55" r="1.38"/><circle cx="71.69" cy="197.67" r="1.38"/><circle cx="71.69" cy="199.80" r="1.38"/><circle cx="71.69" cy="206.02" r="1.38"/><circle cx="75.42" cy="178.97" r="1.38"/><circle cx="75.42" cy="181.75" r="1.38"/><circle cx="75.42" cy="184.09" r="1.38"/><circle cx="75.42" cy="187.06" r="1.38"/><circle cx="75.42" cy="189.32" r="1.38"/><circle cx="75.42" cy="192.68" r="1.38"/><circle cx="75.42" cy="197.57" r="1.38"/><circle cx="75.42" cy="207.47" r="1.38"/><circle cx="75.42" cy="203.41" r="1.38"/><circle cx="75.42" cy="221.52" r="1.38"/><circle cx="79.16" cy="179.02" r="1.38"/><circle cx="79.16" cy="181.92" r="1.38"/><circle cx="79.16" cy="184.86" r="1.38"/><circle cx="79.16" cy="187.42" r="1.38"/><circle cx="79.16" cy="190.59" r="1.38"/><circle cx="79.16" cy="193.15" r="1.38"/><circle cx="79.16" cy="197.34" r="1.38"/><circle cx="79.16" cy="205.12" r="1.38"/><circle cx="82.89" cy="178.98" r="1.38"/><circle cx="82.89" cy="184.72" r="1.38"/><circle cx="82.89" cy="190.01" r="1.38"/><circle cx="82.89" cy="194.79" r="1.38"/><circle cx="82.89" cy="211.37" r="1.38"/><circle cx="82.89" cy="207.11" r="1.38"/><circle cx="82.89" cy="217.35" r="1.38"/><circle cx="86.62" cy="182.15" r="1.38"/><circle cx="86.62" cy="184.55" r="1.38"/><circle cx="86.62" cy="187.55" r="1.38"/><circle cx="86.62" cy="190.16" r="1.38"/><circle cx="86.62" cy="192.52" r="1.38"/><circle cx="86.62" cy="195.30" r="1.38"/><circle cx="86.62" cy="198.09" r="1.38"/><circle cx="86.62" cy="200.86" r="1.38"/><circle cx="86.62" cy="203.90" r="1.38"/><circle cx="86.62" cy="210.44" r="1.38"/><circle cx="86.62" cy="209.93" r="1.38"/><circle cx="86.62" cy="232.00" r="1.38"/><circle cx="86.62" cy="250.74" r="1.38"/><circle cx="90.36" cy="179.35" r="1.38"/><circle cx="90.36" cy="181.74" r="1.38"/><circle cx="90.36" cy="184.30" r="1.38"/><circle cx="90.36" cy="186.68" r="1.38"/><circle cx="90.36" cy="189.86" r="1.38"/><circle cx="90.36" cy="193.19" r="1.38"/><circle cx="90.36" cy="195.75" r="1.38"/><circle cx="90.36" cy="198.40" r="1.38"/><circle cx="90.36" cy="203.64" r="1.38"/><circle cx="90.36" cy="211.94" r="1.38"/><circle cx="90.36" cy="208.35" r="1.38"/><circle cx="90.36" cy="268.52" r="1.38"/><circle cx="90.36" cy="266.65" r="1.38"/><circle cx="94.09" cy="179.28" r="1.38"/><circle cx="94.09" cy="181.81" r="1.38"/><circle cx="94.09" cy="184.95" r="1.38"/><circle cx="94.09" cy="187.55" r="1.38"/><circle cx="94.09" cy="190.67" r="1.38"/><circle cx="94.09" cy="192.61" r="1.38"/><circle cx="94.09" cy="198.77" r="1.38"/><circle cx="94.09" cy="203.39" r="1.38"/><circle cx="94.09" cy="210.22" r="1.38"/><circle cx="94.09" cy="231.79" r="1.38"/><circle cx="94.09" cy="228.16" r="1.38"/><circle cx="97.83" cy="178.86" r="1.38"/><circle cx="97.83" cy="181.78" r="1.38"/><circle cx="97.83" cy="184.50" r="1.38"/><circle cx="97.83" cy="186.95" r="1.38"/><circle cx="97.83" cy="190.17" r="1.38"/><circle cx="97.83" cy="195.24" r="1.38"/><circle cx="97.83" cy="197.89" r="1.38"/><circle cx="97.83" cy="207.52" r="1.38"/><circle cx="97.83" cy="206.59" r="1.38"/><circle cx="97.83" cy="222.66" r="1.38"/><circle cx="97.83" cy="231.95" r="1.38"/><circle cx="101.56" cy="179.18" r="1.38"/><circle cx="101.56" cy="181.73" r="1.38"/><circle cx="101.56" cy="184.98" r="1.38"/><circle cx="101.56" cy="187.70" r="1.38"/><circle cx="101.56" cy="190.18" r="1.38"/><circle cx="101.56" cy="193.03" r="1.38"/><circle cx="101.56" cy="196.04" r="1.38"/><circle cx="101.56" cy="198.47" r="1.38"/><circle cx="101.56" cy="201.41" r="1.38"/><circle cx="101.56" cy="204.31" r="1.38"/><circle cx="101.56" cy="207.02" r="1.38"/><circle cx="101.56" cy="209.48" r="1.38"/><circle cx="101.56" cy="214.65" r="1.38"/><circle cx="101.56" cy="259.23" r="1.38"/><circle cx="101.56" cy="222.96" r="1.38"/><circle cx="105.30" cy="179.01" r="1.38"/><circle cx="105.30" cy="181.68" r="1.38"/><circle cx="105.30" cy="185.13" r="1.38"/><circle cx="105.30" cy="187.53" r="1.38"/><circle cx="105.30" cy="190.24" r="1.38"/><circle cx="105.30" cy="192.34" r="1.38"/><circle cx="105.30" cy="195.40" r="1.38"/><circle cx="105.30" cy="198.12" r="1.38"/><circle cx="105.30" cy="200.96" r="1.38"/><circle cx="105.30" cy="215.94" r="1.38"/><circle cx="105.30" cy="209.38" r="1.38"/><circle cx="105.30" cy="228.16" r="1.38"/><circle cx="105.30" cy="237.62" r="1.38"/><circle cx="109.03" cy="179.21" r="1.38"/><circle cx="109.03" cy="182.23" r="1.38"/><circle cx="109.03" cy="184.76" r="1.38"/><circle cx="109.03" cy="187.60" r="1.38"/><circle cx="109.03" cy="189.98" r="1.38"/><circle cx="109.03" cy="192.59" r="1.38"/><circle cx="109.03" cy="198.11" r="1.38"/><circle cx="109.03" cy="206.00" r="1.38"/><circle cx="109.03" cy="206.45" r="1.38"/><circle cx="109.03" cy="243.99" r="1.38"/><circle cx="109.03" cy="250.02" r="1.38"/><circle cx="112.77" cy="178.96" r="1.38"/><circle cx="112.77" cy="184.27" r="1.38"/><circle cx="112.77" cy="189.87" r="1.38"/><circle cx="112.77" cy="195.41" r="1.38"/><circle cx="112.77" cy="200.63" r="1.38"/><circle cx="112.77" cy="203.73" r="1.38"/><circle cx="112.77" cy="206.64" r="1.38"/><circle cx="112.77" cy="214.24" r="1.38"/><circle cx="112.77" cy="220.14" r="1.38"/><circle cx="112.77" cy="219.69" r="1.38"/><circle cx="112.77" cy="228.64" r="1.38"/><circle cx="112.77" cy="215.26" r="1.38"/><circle cx="116.50" cy="179.49" r="1.38"/><circle cx="116.50" cy="181.87" r="1.38"/><circle cx="116.50" cy="184.83" r="1.38"/><circle cx="116.50" cy="186.80" r="1.38"/><circle cx="116.50" cy="189.95" r="1.38"/><circle cx="116.50" cy="192.72" r="1.38"/><circle cx="116.50" cy="195.69" r="1.38"/><circle cx="116.50" cy="197.98" r="1.38"/><circle cx="116.50" cy="200.53" r="1.38"/><circle cx="116.50" cy="205.75" r="1.38"/><circle cx="116.50" cy="208.19" r="1.38"/><circle cx="116.50" cy="211.39" r="1.38"/><circle cx="116.50" cy="216.85" r="1.38"/><circle cx="116.50" cy="210.05" r="1.38"/><circle cx="116.50" cy="226.73" r="1.38"/><circle cx="116.50" cy="257.23" r="1.38"/><circle cx="120.24" cy="179.21" r="1.38"/><circle cx="120.24" cy="181.58" r="1.38"/><circle cx="120.24" cy="184.83" r="1.38"/><circle cx="120.24" cy="186.97" r="1.38"/><circle cx="120.24" cy="190.31" r="1.38"/><circle cx="120.24" cy="197.72" r="1.38"/><circle cx="120.24" cy="201.31" r="1.38"/><circle cx="120.24" cy="203.86" r="1.38"/><circle cx="120.24" cy="206.49" r="1.38"/><circle cx="120.24" cy="208.61" r="1.38"/><circle cx="120.24" cy="233.88" r="1.38"/><circle cx="120.24" cy="268.35" r="1.38"/><circle cx="123.97" cy="179.01" r="1.38"/><circle cx="123.97" cy="181.78" r="1.38"/><circle cx="123.97" cy="184.25" r="1.38"/><circle cx="123.97" cy="187.82" r="1.38"/><circle cx="123.97" cy="195.41" r="1.38"/><circle cx="123.97" cy="198.42" r="1.38"/><circle cx="123.97" cy="201.10" r="1.38"/><circle cx="123.97" cy="204.37" r="1.38"/><circle cx="123.97" cy="206.72" r="1.38"/><circle cx="123.97" cy="209.48" r="1.38"/><circle cx="123.97" cy="213.02" r="1.38"/><circle cx="123.97" cy="215.05" r="1.38"/><circle cx="123.97" cy="215.74" r="1.38"/><circle cx="123.97" cy="259.95" r="1.38"/><circle cx="123.97" cy="261.38" r="1.38"/></g>
<rect x="133.20" y="168.20" width="94.50" height="55.60" fill="#eeeef5" />
<line x1="136.80" y1="193.60" x2="152.80" y2="193.60" stroke="#4c72b0" stroke-width="1.3" />
<circle cx="144.80" cy="193.60" r="2.3" fill="#4c72b0" />
<line x1="136.80" y1="211.60" x2="152.80" y2="211.60" stroke="#dd8452" stroke-width="1.3" stroke-dasharray="2.2,1.4"/>
<path d="M143.00,209.80 L146.60,213.40 M143.00,213.40 L146.60,209.80" fill="none" stroke="#dd8452" stroke-width="1.3" />
<rect x="270.00" y="172.80" width="106.80" height="109.80" fill="#EAEAF2" />
<line x1="273.70" y1="172.80" x2="273.70" y2="282.60" stroke="#ffffff" stroke-width="0.9" />
<line x1="304.40" y1="172.80" x2="304.40" y2="282.60" stroke="#ffffff" stroke-width="0.9" />
<line x1="335.10" y1="172.80" x2="335.10" y2="282.60" stroke="#ffffff" stroke-width="0.9" />
<line x1="365.80" y1="172.80" x2="365.80" y2="282.60" stroke="#ffffff" stroke-width="0.9" />
<line x1="270.00" y1="278.45" x2="376.80" y2="278.45" stroke="#ffffff" stroke-width="0.9" />
<line x1="270.00" y1="250.10" x2="376.80" y2="250.10" stroke="#ffffff" stroke-width="0.9" />
<line x1="270.00" y1="221.75" x2="376.80" y2="221.75" stroke="#ffffff" stroke-width="0.9" />
<line x1="270.00" y1="193.40" x2="376.80" y2="193.40" stroke="#ffffff" stroke-width="0.9" />
<path d="M274.47,185.61 L275.39,197.09 L276.31,206.77 L277.23,214.76 L278.15,220.04 L279.07,224.43 L279.99,228.75 L280.91,229.84 L281.84,231.41 L282.76,232.87 L283.68,237.03 L284.60,238.35 L285.52,240.30 L286.44,239.34 L287.36,240.99 L288.28,243.76 L289.20,241.28 L290.12,241.80 L291.05,243.23 L291.97,243.81 L292.89,245.70 L293.81,246.60 L294.73,245.36 L295.65,247.15 L296.57,247.07 L297.49,247.23 L298.41,248.22 L299.33,247.19 L300.26,247.45 L301.18,246.38 L302.10,247.57 L303.02,247.37 L303.94,247.99 L304.86,247.95 L305.78,248.42 L306.70,248.85 L307.62,248.02 L308.54,248.17 L309.47,248.52 L310.39,248.84 L311.31,249.53 L312.23,249.78 L313.15,249.83 L314.07,250.27 L314.99,249.42 L315.91,250.07 L316.83,249.57 L317.75,250.32 L318.68,249.61 L319.60,249.86 L320.52,251.16 L321.44,250.97 L322.36,250.07 L323.28,250.79 L324.20,250.17 L325.12,251.09 L326.04,251.65 L326.96,250.96 L327.89,250.85 L328.81,251.67 L329.73,252.03 L330.65,251.76 L331.57,250.94 L332.49,251.30 L333.41,252.28 L334.33,252.16 L335.25,252.44 L336.17,252.57 L337.10,251.60 L338.02,252.54 L338.94,252.07 L339.86,252.30 L340.78,252.74 L341.70,252.04 L342.62,252.96 L343.54,252.30 L344.46,253.12 L345.38,252.76 L346.31,253.13 L347.23,253.12 L348.15,252.19 L349.07,252.50 L349.99,253.28 L350.91,252.51 L351.83,253.50 L352.75,253.28 L353.67,252.66 L354.59,253.00 L355.52,253.80 L356.44,252.58 L357.36,253.72 L358.28,253.69 L359.20,253.00 L360.12,253.66 L361.04,253.74 L361.96,254.10 L362.88,254.11 L363.80,253.45 L364.73,253.97 L365.65,253.49 L366.57,253.86 L367.49,253.78 L368.41,253.10 L369.33,253.81 L370.25,253.71 L371.17,253.34 L371.17,256.54 L370.25,256.91 L369.33,257.01 L368.41,256.30 L367.49,256.98 L366.57,257.06 L365.65,256.69 L364.73,257.17 L363.80,256.65 L362.88,257.31 L361.96,257.30 L361.04,256.94 L360.12,256.86 L359.20,256.20 L358.28,256.89 L357.36,256.92 L356.44,255.78 L355.52,257.00 L354.59,256.20 L353.67,255.86 L352.75,256.48 L351.83,256.70 L350.91,255.71 L349.99,256.48 L349.07,255.70 L348.15,255.39 L347.23,256.32 L346.31,256.33 L345.38,255.96 L344.46,256.32 L343.54,255.50 L342.62,256.16 L341.70,255.24 L340.78,255.94 L339.86,255.50 L338.94,255.27 L338.02,255.74 L337.10,254.80 L336.17,255.77 L335.25,255.64 L334.33,255.36 L333.41,255.48 L332.49,254.50 L331.57,254.14 L330.65,254.96 L329.73,255.23 L328.81,254.87 L327.89,254.05 L326.96,254.16 L326.04,254.85 L325.12,254.29 L324.20,253.37 L323.28,253.99 L322.36,253.27 L321.44,254.17 L320.52,254.36 L319.60,253.06 L318.68,252.81 L317.75,253.52 L316.83,252.77 L315.91,253.27 L314.99,252.62 L314.07,253.47 L313.15,253.03 L312.23,252.98 L311.31,252.73 L310.39,252.04 L309.47,251.72 L308.54,251.37 L307.62,251.22 L306.70,252.05 L305.78,251.62 L304.86,251.15 L303.94,251.19 L303.02,250.57 L302.10,250.77 L301.18,249.58 L300.26,250.65 L299.33,250.39 L298.41,251.42 L297.49,250.43 L296.57,250.27 L295.65,250.35 L294.73,248.56 L293.81,249.86 L292.89,249.23 L291.97,247.62 L291.05,247.31 L290.12,246.16 L289.20,245.92 L288.28,248.67 L287.36,246.18 L286.44,244.81 L285.52,246.04 L284.60,244.37 L283.68,243.32 L282.76,239.45 L281.84,238.26 L280.91,236.97 L279.99,236.15 L279.07,232.10 L278.15,228.00 L277.23,223.00 L276.31,215.28 L275.39,205.87 L274.47,194.67Z" fill="rgba(76,114,176,0.22)" />
<path d="M274.40,172.88 L275.40,176.29 L276.90,172.09 L278.40,171.13 L279.90,172.52 L281.40,174.29 L282.90,174.37 L284.40,182.32 L285.90,191.11 L287.40,191.69 L288.90,196.98 L290.40,194.50 L291.90,195.61 L293.40,200.62 L294.90,199.52 L296.40,200.89 L297.90,209.51 L299.40,209.19 L300.90,215.21 L302.40,212.35 L303.90,217.83 L305.40,217.68 L306.90,212.45 L308.40,223.27 L309.90,219.64 L311.40,217.15 L312.90,211.77 L314.40,211.27 L315.90,212.40 L317.40,213.87 L318.90,220.48 L320.40,229.27 L321.90,226.02 L323.40,231.82 L324.90,235.97 L326.40,237.81 L327.90,236.18 L329.40,240.65 L330.90,243.77 L332.40,243.47 L333.90,243.53 L335.40,246.85 L336.90,248.97 L338.40,251.73 L339.90,247.10 L341.40,247.56 L342.90,243.83 L344.40,241.12 L345.90,244.33 L347.40,244.74 L348.90,244.24 L350.40,237.32 L351.90,244.65 L353.40,246.44 L354.90,251.96 L356.40,252.10 L357.90,248.61 L359.40,249.06 L360.90,253.50 L362.40,250.99 L363.90,248.85 L365.40,243.21 L366.90,243.52 L368.40,244.29 L369.90,246.30 L371.40,250.63 L371.60,250.62 L371.60,260.58 L371.40,261.63 L369.90,255.61 L368.40,252.00 L366.90,251.72 L365.40,252.81 L363.90,256.20 L362.40,259.21 L360.90,267.10 L359.40,260.75 L357.90,261.40 L356.40,264.79 L354.90,261.93 L353.40,253.53 L351.90,253.18 L350.40,247.98 L348.90,253.32 L347.40,257.78 L345.90,257.64 L344.40,253.56 L342.90,253.27 L341.40,255.15 L339.90,258.43 L338.40,260.35 L336.90,262.11 L335.40,256.39 L333.90,254.81 L332.40,256.72 L330.90,251.13 L329.40,248.27 L327.90,247.61 L326.40,246.22 L324.90,242.06 L323.40,239.86 L321.90,244.73 L320.40,244.55 L318.90,234.45 L317.40,230.09 L315.90,223.38 L314.40,225.05 L312.90,226.91 L311.40,225.88 L309.90,236.44 L308.40,232.61 L306.90,230.24 L305.40,231.02 L303.90,232.73 L302.40,228.98 L300.90,227.96 L299.40,225.74 L297.90,227.76 L296.40,220.42 L294.90,215.08 L293.40,209.92 L291.90,210.83 L290.40,209.43 L288.90,209.67 L287.40,207.09 L285.90,205.92 L284.40,200.39 L282.90,191.62 L281.40,187.36 L279.90,190.68 L278.40,189.62 L276.90,188.16 L275.40,188.63 L274.40,191.52Z" fill="rgba(221,132,82,0.2)" />
<path d="M274.47,190.14 L275.39,201.48 L276.31,211.02 L277.23,218.88 L278.15,224.02 L279.07,228.27 L279.99,232.45 L280.91,233.41 L281.84,234.83 L282.76,236.16 L283.68,240.17 L284.60,241.36 L285.52,243.17 L286.44,242.08 L287.36,243.59 L288.28,246.21 L289.20,243.60 L290.12,243.98 L291.05,245.27 L291.97,245.71 L292.89,247.46 L293.81,248.23 L294.73,246.96 L295.65,248.75 L296.57,248.67 L297.49,248.83 L298.41,249.82 L299.33,248.79 L300.26,249.05 L301.18,247.98 L302.10,249.17 L303.02,248.97 L303.94,249.59 L304.86,249.55 L305.78,250.02 L306.70,250.45 L307.62,249.62 L308.54,249.77 L309.47,250.12 L310.39,250.44 L311.31,251.13 L312.23,251.38 L313.15,251.43 L314.07,251.87 L314.99,251.02 L315.91,251.67 L316.83,251.17 L317.75,251.92 L318.68,251.21 L319.60,251.46 L320.52,252.76 L321.44,252.57 L322.36,251.67 L323.28,252.39 L324.20,251.77 L325.12,252.69 L326.04,253.25 L326.96,252.56 L327.89,252.45 L328.81,253.27 L329.73,253.63 L330.65,253.36 L331.57,252.54 L332.49,252.90 L333.41,253.88 L334.33,253.76 L335.25,254.04 L336.17,254.17 L337.10,253.20 L338.02,254.14 L338.94,253.67 L339.86,253.90 L340.78,254.34 L341.70,253.64 L342.62,254.56 L343.54,253.90 L344.46,254.72 L345.38,254.36 L346.31,254.73 L347.23,254.72 L348.15,253.79 L349.07,254.10 L349.99,254.88 L350.91,254.11 L351.83,255.10 L352.75,254.88 L353.67,254.26 L354.59,254.60 L355.52,255.40 L356.44,254.18 L357.36,255.32 L358.28,255.29 L359.20,254.60 L360.12,255.26 L361.04,255.34 L361.96,255.70 L362.88,255.71 L363.80,255.05 L364.73,255.57 L365.65,255.09 L366.57,255.46 L367.49,255.38 L368.41,254.70 L369.33,255.41 L370.25,255.31 L371.17,254.94" fill="none" stroke="#4c72b0" stroke-width="1.25" stroke-linejoin="round"/>
<path d="M274.40,182.20 L275.40,182.46 L276.90,180.12 L278.40,180.38 L279.90,181.60 L281.40,180.82 L282.90,182.99 L284.40,191.36 L285.90,198.52 L287.40,199.39 L288.90,203.32 L290.40,201.97 L291.90,203.22 L293.40,205.27 L294.90,207.30 L296.40,210.66 L297.90,218.64 L299.40,217.46 L300.90,221.58 L302.40,220.66 L303.90,225.28 L305.40,224.35 L306.90,221.35 L308.40,227.94 L309.90,228.04 L311.40,221.51 L312.90,219.34 L314.40,218.16 L315.90,217.89 L317.40,221.98 L318.90,227.47 L320.40,236.91 L321.90,235.37 L323.40,235.84 L324.90,239.01 L326.40,242.01 L327.90,241.90 L329.40,244.46 L330.90,247.45 L332.40,250.10 L333.90,249.17 L335.40,251.62 L336.90,255.54 L338.40,256.04 L339.90,252.76 L341.40,251.36 L342.90,248.55 L344.40,247.34 L345.90,250.99 L347.40,251.26 L348.90,248.78 L350.40,242.65 L351.90,248.92 L353.40,249.99 L354.90,256.94 L356.40,258.45 L357.90,255.00 L359.40,254.90 L360.90,260.30 L362.40,255.10 L363.90,252.53 L365.40,248.01 L366.90,247.62 L368.40,248.14 L369.90,250.96 L371.40,256.13 L371.60,255.60" fill="none" stroke="#e08655" stroke-width="1.15" stroke-dasharray="3.0,1.5" stroke-linejoin="round"/>
<rect x="432.50" y="173.30" width="95.50" height="107.90" fill="#EAEAF2" />
<line x1="455.40" y1="173.30" x2="455.40" y2="281.20" stroke="#ffffff" stroke-width="0.9" />
<line x1="484.60" y1="173.30" x2="484.60" y2="281.20" stroke="#ffffff" stroke-width="0.9" />
<line x1="513.80" y1="173.30" x2="513.80" y2="281.20" stroke="#ffffff" stroke-width="0.9" />
<line x1="432.50" y1="258.28" x2="528.00" y2="258.28" stroke="#ffffff" stroke-width="0.9" />
<line x1="432.50" y1="231.62" x2="528.00" y2="231.62" stroke="#ffffff" stroke-width="0.9" />
<line x1="432.50" y1="204.96" x2="528.00" y2="204.96" stroke="#ffffff" stroke-width="0.9" />
<line x1="432.50" y1="178.30" x2="528.00" y2="178.30" stroke="#ffffff" stroke-width="0.9" />
<rect x="583.50" y="173.80" width="97.60" height="108.70" fill="#EAEAF2" />
<line x1="587.70" y1="173.80" x2="587.70" y2="282.50" stroke="#ffffff" stroke-width="0.9" />
<line x1="619.40" y1="173.80" x2="619.40" y2="282.50" stroke="#ffffff" stroke-width="0.9" />
<line x1="650.50" y1="173.80" x2="650.50" y2="282.50" stroke="#ffffff" stroke-width="0.9" />
<line x1="675.80" y1="173.80" x2="675.80" y2="282.50" stroke="#ffffff" stroke-width="0.9" />
<line x1="583.50" y1="269.03" x2="681.10" y2="269.03" stroke="#ffffff" stroke-width="0.9" />
<line x1="583.50" y1="251.00" x2="681.10" y2="251.00" stroke="#ffffff" stroke-width="0.9" />
<line x1="583.50" y1="232.98" x2="681.10" y2="232.98" stroke="#ffffff" stroke-width="0.9" />
<line x1="583.50" y1="214.95" x2="681.10" y2="214.95" stroke="#ffffff" stroke-width="0.9" />
<line x1="583.50" y1="196.93" x2="681.10" y2="196.93" stroke="#ffffff" stroke-width="0.9" />
<line x1="583.50" y1="178.90" x2="681.10" y2="178.90" stroke="#ffffff" stroke-width="0.9" />
<path d="M355,227.5 L355,270.9 L479.9,241.3 Z" fill="url(#gO1)" />
<path d="M355,227.5 L355,270.9 L509.7,258 Z" fill="url(#gB1)" />
<path d="M480.3,240.9 L676.1,178.6 L676.1,189.0 L598,214.4 Q560,225 480.3,240.9 Z" fill="url(#gO2)" />
<path d="M509.7,257.9 L675.6,223.6 L675.6,233.8 L583,248.4 Q545,253.5 509.7,257.9 Z" fill="url(#gB2)" />
<path d="M451.02,193.50 L465.62,193.50 L470.00,195.36 L480.22,203.23 L484.60,214.56 L494.82,240.95 L499.20,248.15 L509.42,258.01 L513.80,238.95 L524.02,178.30" fill="none" stroke="#4c72b0" stroke-width="1.2" />
<path d="M451.02,192.70L451.02,194.30M448.62,192.70L453.42,192.70M448.62,194.30L453.42,194.30" fill="none" stroke="#4c72b0" stroke-width="0.9" />
<circle cx="451.02" cy="193.50" r="1.9" fill="#4c72b0" />
<path d="M465.62,192.70L465.62,194.30M463.22,192.70L468.02,192.70M463.22,194.30L468.02,194.30" fill="none" stroke="#4c72b0" stroke-width="0.9" />
<circle cx="465.62" cy="193.50" r="1.9" fill="#4c72b0" />
<path d="M470.00,194.36L470.00,196.36M467.60,194.36L472.40,194.36M467.60,196.36L472.40,196.36" fill="none" stroke="#4c72b0" stroke-width="0.9" />
<circle cx="470.00" cy="195.36" r="1.9" fill="#4c72b0" />
<path d="M480.22,199.23L480.22,207.23M477.82,199.23L482.62,199.23M477.82,207.23L482.62,207.23" fill="none" stroke="#4c72b0" stroke-width="0.9" />
<circle cx="480.22" cy="203.23" r="1.9" fill="#4c72b0" />
<path d="M484.60,209.56L484.60,219.56M482.20,209.56L487.00,209.56M482.20,219.56L487.00,219.56" fill="none" stroke="#4c72b0" stroke-width="0.9" />
<circle cx="484.60" cy="214.56" r="1.9" fill="#4c72b0" />
<path d="M494.82,239.45L494.82,242.45M492.42,239.45L497.22,239.45M492.42,242.45L497.22,242.45" fill="none" stroke="#4c72b0" stroke-width="0.9" />
<circle cx="494.82" cy="240.95" r="1.9" fill="#4c72b0" />
<path d="M499.20,246.65L499.20,249.65M496.80,246.65L501.60,246.65M496.80,249.65L501.60,249.65" fill="none" stroke="#4c72b0" stroke-width="0.9" />
<circle cx="499.20" cy="248.15" r="1.9" fill="#4c72b0" />
<path d="M509.42,257.01L509.42,259.01M507.02,257.01L511.82,257.01M507.02,259.01L511.82,259.01" fill="none" stroke="#4c72b0" stroke-width="0.9" />
<circle cx="509.42" cy="258.01" r="1.9" fill="#4c72b0" />
<path d="M513.80,232.95L513.80,244.95M511.40,232.95L516.20,232.95M511.40,244.95L516.20,244.95" fill="none" stroke="#4c72b0" stroke-width="0.9" />
<circle cx="513.80" cy="238.95" r="1.9" fill="#4c72b0" />
<path d="M524.02,177.80L524.02,178.80M521.62,177.80L526.42,177.80M521.62,178.80L526.42,178.80" fill="none" stroke="#4c72b0" stroke-width="0.9" />
<circle cx="524.02" cy="178.30" r="1.9" fill="#4c72b0" />
<path d="M436.42,193.50 L451.02,193.50 L465.62,208.43 L470.00,223.76 L480.22,240.95 L484.60,224.69 L494.82,193.50 L499.20,178.30 L509.42,178.30 L513.80,178.30 L524.02,178.30" fill="none" stroke="#dd8452" stroke-width="1.1" stroke-dasharray="2.6,1.6"/>
<path d="M436.42,191.60L436.42,195.40M432.82,191.60L440.02,191.60M432.82,195.40L440.02,195.40" fill="none" stroke="#dd8452" stroke-width="1.0" />
<path d="M434.62,191.70 L438.22,195.30 M434.62,195.30 L438.22,191.70" fill="none" stroke="#dd8452" stroke-width="1.1" />
<path d="M451.02,191.60L451.02,195.40M447.42,191.60L454.62,191.60M447.42,195.40L454.62,195.40" fill="none" stroke="#dd8452" stroke-width="1.0" />
<path d="M449.22,191.70 L452.82,195.30 M449.22,195.30 L452.82,191.70" fill="none" stroke="#dd8452" stroke-width="1.1" />
<path d="M465.62,203.93L465.62,212.93M463.22,203.93L468.02,203.93M463.22,212.93L468.02,212.93" fill="none" stroke="#dd8452" stroke-width="0.9" />
<path d="M464.02,206.83 L467.22,210.03 M464.02,210.03 L467.22,206.83" fill="none" stroke="#dd8452" stroke-width="1.0" />
<path d="M470.00,217.46L470.00,230.06M467.60,217.46L472.40,217.46M467.60,230.06L472.40,230.06" fill="none" stroke="#dd8452" stroke-width="0.9" />
<path d="M468.40,222.16 L471.60,225.36 M468.40,225.36 L471.60,222.16" fill="none" stroke="#dd8452" stroke-width="1.0" />
<path d="M480.22,239.45L480.22,242.45M477.82,239.45L482.62,239.45M477.82,242.45L482.62,242.45" fill="none" stroke="#dd8452" stroke-width="0.9" />
<path d="M478.62,239.35 L481.82,242.55 M478.62,242.55 L481.82,239.35" fill="none" stroke="#dd8452" stroke-width="1.0" />
<path d="M484.60,221.19L484.60,228.19M482.20,221.19L487.00,221.19M482.20,228.19L487.00,228.19" fill="none" stroke="#dd8452" stroke-width="0.9" />
<path d="M483.00,223.09 L486.20,226.29 M483.00,226.29 L486.20,223.09" fill="none" stroke="#dd8452" stroke-width="1.0" />
<path d="M494.82,187.80L494.82,199.20M492.42,187.80L497.22,187.80M492.42,199.20L497.22,199.20" fill="none" stroke="#dd8452" stroke-width="0.9" />
<path d="M493.22,191.90 L496.42,195.10 M493.22,195.10 L496.42,191.90" fill="none" stroke="#dd8452" stroke-width="1.0" />
<path d="M499.20,177.80L499.20,178.80M496.80,177.80L501.60,177.80M496.80,178.80L501.60,178.80" fill="none" stroke="#dd8452" stroke-width="0.9" />
<path d="M497.60,176.70 L500.80,179.90 M497.60,179.90 L500.80,176.70" fill="none" stroke="#dd8452" stroke-width="1.0" />
<path d="M509.42,177.80L509.42,178.80M507.02,177.80L511.82,177.80M507.02,178.80L511.82,178.80" fill="none" stroke="#dd8452" stroke-width="0.9" />
<path d="M507.82,176.70 L511.02,179.90 M507.82,179.90 L511.02,176.70" fill="none" stroke="#dd8452" stroke-width="1.0" />
<path d="M513.80,177.80L513.80,178.80M511.40,177.80L516.20,177.80M511.40,178.80L516.20,178.80" fill="none" stroke="#dd8452" stroke-width="0.9" />
<path d="M512.20,176.70 L515.40,179.90 M512.20,179.90 L515.40,176.70" fill="none" stroke="#dd8452" stroke-width="1.0" />
<path d="M524.02,177.80L524.02,178.80M521.62,177.80L526.42,177.80M521.62,178.80L526.42,178.80" fill="none" stroke="#dd8452" stroke-width="0.9" />
<path d="M522.42,176.70 L525.62,179.90 M522.42,179.90 L525.62,176.70" fill="none" stroke="#dd8452" stroke-width="1.0" />
<path d="M587.90,225.50 L594.20,269.70 L606.80,277.70 L619.40,275.70 L632.00,271.30 L644.60,261.20 L657.20,246.50 L669.80,227.60 L676.10,228.40" fill="none" stroke="#4c72b0" stroke-width="1.2" />
<path d="M587.90,224.00L587.90,227.00M585.50,224.00L590.30,224.00M585.50,227.00L590.30,227.00" fill="none" stroke="#4c72b0" stroke-width="0.9" />
<circle cx="587.90" cy="225.50" r="1.6" fill="#4c72b0" />
<path d="M594.20,267.50L594.20,271.90M591.80,267.50L596.60,267.50M591.80,271.90L596.60,271.90" fill="none" stroke="#4c72b0" stroke-width="0.9" />
<circle cx="594.20" cy="269.70" r="1.6" fill="#4c72b0" />
<path d="M606.80,276.20L606.80,279.20M604.40,276.20L609.20,276.20M604.40,279.20L609.20,279.20" fill="none" stroke="#4c72b0" stroke-width="0.9" />
<circle cx="606.80" cy="277.70" r="1.6" fill="#4c72b0" />
<path d="M619.40,274.20L619.40,277.20M617.00,274.20L621.80,274.20M617.00,277.20L621.80,277.20" fill="none" stroke="#4c72b0" stroke-width="0.9" />
<circle cx="619.40" cy="275.70" r="1.6" fill="#4c72b0" />
<path d="M632.00,269.30L632.00,273.30M629.60,269.30L634.40,269.30M629.60,273.30L634.40,273.30" fill="none" stroke="#4c72b0" stroke-width="0.9" />
<circle cx="632.00" cy="271.30" r="1.6" fill="#4c72b0" />
<path d="M644.60,259.20L644.60,263.20M642.20,259.20L647.00,259.20M642.20,263.20L647.00,263.20" fill="none" stroke="#4c72b0" stroke-width="0.9" />
<circle cx="644.60" cy="261.20" r="1.6" fill="#4c72b0" />
<path d="M657.20,244.50L657.20,248.50M654.80,244.50L659.60,244.50M654.80,248.50L659.60,248.50" fill="none" stroke="#4c72b0" stroke-width="0.9" />
<circle cx="657.20" cy="246.50" r="1.6" fill="#4c72b0" />
<path d="M669.80,226.10L669.80,229.10M667.40,226.10L672.20,226.10M667.40,229.10L672.20,229.10" fill="none" stroke="#4c72b0" stroke-width="0.9" />
<circle cx="669.80" cy="227.60" r="1.6" fill="#4c72b0" />
<path d="M676.10,226.90L676.10,229.90M673.70,226.90L678.50,226.90M673.70,229.90L678.50,229.90" fill="none" stroke="#4c72b0" stroke-width="0.9" />
<circle cx="676.10" cy="228.40" r="1.6" fill="#4c72b0" />
<path d="M587.90,225.50 L594.20,264.00 L606.80,273.60 L619.40,273.60 L632.00,266.80 L644.60,252.20 L657.20,231.50 L669.80,197.50 L676.10,183.60" fill="none" stroke="#dd8452" stroke-width="1.1" stroke-dasharray="2.6,1.6"/>
<path d="M587.90,223.50L587.90,227.50M585.50,223.50L590.30,223.50M585.50,227.50L590.30,227.50" fill="none" stroke="#dd8452" stroke-width="0.9" />
<path d="M586.40,224.00 L589.40,227.00 M586.40,227.00 L589.40,224.00" fill="none" stroke="#dd8452" stroke-width="1.0" />
<path d="M594.20,262.20L594.20,265.80M591.80,262.20L596.60,262.20M591.80,265.80L596.60,265.80" fill="none" stroke="#dd8452" stroke-width="0.9" />
<path d="M592.70,262.50 L595.70,265.50 M592.70,265.50 L595.70,262.50" fill="none" stroke="#dd8452" stroke-width="1.0" />
<path d="M606.80,270.90L606.80,276.30M604.40,270.90L609.20,270.90M604.40,276.30L609.20,276.30" fill="none" stroke="#dd8452" stroke-width="0.9" />
<path d="M605.30,272.10 L608.30,275.10 M605.30,275.10 L608.30,272.10" fill="none" stroke="#dd8452" stroke-width="1.0" />
<path d="M619.40,272.10L619.40,275.10M617.00,272.10L621.80,272.10M617.00,275.10L621.80,275.10" fill="none" stroke="#dd8452" stroke-width="0.9" />
<path d="M617.90,272.10 L620.90,275.10 M617.90,275.10 L620.90,272.10" fill="none" stroke="#dd8452" stroke-width="1.0" />
<path d="M632.00,264.80L632.00,268.80M629.60,264.80L634.40,264.80M629.60,268.80L634.40,268.80" fill="none" stroke="#dd8452" stroke-width="0.9" />
<path d="M630.50,265.30 L633.50,268.30 M630.50,268.30 L633.50,265.30" fill="none" stroke="#dd8452" stroke-width="1.0" />
<path d="M644.60,250.20L644.60,254.20M642.20,250.20L647.00,250.20M642.20,254.20L647.00,254.20" fill="none" stroke="#dd8452" stroke-width="0.9" />
<path d="M643.10,250.70 L646.10,253.70 M643.10,253.70 L646.10,250.70" fill="none" stroke="#dd8452" stroke-width="1.0" />
<path d="M657.20,229.00L657.20,234.00M654.80,229.00L659.60,229.00M654.80,234.00L659.60,234.00" fill="none" stroke="#dd8452" stroke-width="0.9" />
<path d="M655.70,230.00 L658.70,233.00 M655.70,233.00 L658.70,230.00" fill="none" stroke="#dd8452" stroke-width="1.0" />
<path d="M669.80,187.00L669.80,208.00M667.40,187.00L672.20,187.00M667.40,208.00L672.20,208.00" fill="none" stroke="#dd8452" stroke-width="0.9" />
<path d="M668.30,196.00 L671.30,199.00 M668.30,199.00 L671.30,196.00" fill="none" stroke="#dd8452" stroke-width="1.0" />
<path d="M676.10,181.60L676.10,185.60M673.70,181.60L678.50,181.60M673.70,185.60L678.50,185.60" fill="none" stroke="#dd8452" stroke-width="0.9" />
<path d="M674.60,182.10 L677.60,185.10 M674.60,185.10 L677.60,182.10" fill="none" stroke="#dd8452" stroke-width="1.0" />
<circle cx="676.10" cy="183.80" r="5.3" fill="rgba(252,183,124,0.6)" />
<circle cx="675.60" cy="228.70" r="5.2" fill="rgba(122,184,242,0.6)" />
<text x="0.20" y="10.30" font-size="12.5" font-weight="bold" fill="#000" color="#000" >a</text>
<text x="30.35" y="21.60" font-size="7.9" textLength="16.45" lengthAdjust="spacingAndGlyphs" fill="#333333" color="#333333" >1.00</text>
<text x="30.35" y="65.70" font-size="7.9" textLength="16.45" lengthAdjust="spacingAndGlyphs" fill="#333333" color="#333333" >0.90</text>
<text x="30.35" y="109.30" font-size="7.9" textLength="16.45" lengthAdjust="spacingAndGlyphs" fill="#333333" color="#333333" >0.80</text>
<text x="48.15" y="137.40" font-size="7.9" textLength="4.70" lengthAdjust="spacingAndGlyphs" fill="#333333" color="#333333" >0</text>
<text x="100.12" y="137.40" font-size="7.9" textLength="11.75" lengthAdjust="spacingAndGlyphs" fill="#333333" color="#333333" >0.5</text>
<text x="155.22" y="137.40" font-size="7.9" textLength="11.75" lengthAdjust="spacingAndGlyphs" fill="#333333" color="#333333" >1.0</text>
<text x="73.30" y="147.80" font-size="8.5" textLength="65.60" lengthAdjust="spacingAndGlyphs" fill="#1e1e1e" color="#1e1e1e" >Incorrect output</text>
<text transform="translate(24.90,77.80) rotate(-90)" x="0" y="0" font-size="8.5" text-anchor="middle" textLength="59.00" lengthAdjust="spacingAndGlyphs" fill="#1e1e1e" color="#1e1e1e" >Correct output</text>
<text x="39.00" y="42.10" font-size="7.7" textLength="21.40" lengthAdjust="spacingAndGlyphs" fill="#1a1a1a" color="#1a1a1a" >Target</text>
<text x="105.00" y="42.00" font-size="7.7" textLength="62.00" lengthAdjust="spacingAndGlyphs" fill="#1a1a1a" color="#1a1a1a" >Current prediction</text>
<text x="180.60" y="25.40" font-size="7.6" textLength="33.40" lengthAdjust="spacingAndGlyphs" fill="#1e1e1e" color="#1e1e1e" >Iteration</text>
<text x="191.60" y="37.80" font-size="7.6" textLength="4.65" lengthAdjust="spacingAndGlyphs" fill="#333333" color="#333333" >4</text>
<text x="191.60" y="49.90" font-size="7.6" textLength="4.65" lengthAdjust="spacingAndGlyphs" fill="#333333" color="#333333" >8</text>
<text x="191.60" y="61.80" font-size="7.6" textLength="9.30" lengthAdjust="spacingAndGlyphs" fill="#333333" color="#333333" >12</text>
<text x="191.60" y="73.80" font-size="7.6" textLength="9.30" lengthAdjust="spacingAndGlyphs" fill="#333333" color="#333333" >16</text>
<text x="219.60" y="25.80" font-size="7.6" textLength="54.20" lengthAdjust="spacingAndGlyphs" fill="#1e1e1e" color="#1e1e1e" >Loss to target</text>
<text x="248.20" y="37.30" font-size="7.6" textLength="11.62" lengthAdjust="spacingAndGlyphs" fill="#333333" color="#333333" >0.1</text>
<text x="248.20" y="50.30" font-size="7.6" textLength="11.62" lengthAdjust="spacingAndGlyphs" fill="#333333" color="#333333" >0.2</text>
<text x="248.20" y="62.90" font-size="7.6" textLength="11.62" lengthAdjust="spacingAndGlyphs" fill="#333333" color="#333333" >0.3</text>
<text x="248.20" y="75.70" font-size="7.6" textLength="11.62" lengthAdjust="spacingAndGlyphs" fill="#333333" color="#333333" >0.4</text>
<text x="248.20" y="88.20" font-size="7.6" textLength="11.62" lengthAdjust="spacingAndGlyphs" fill="#333333" color="#333333" >0.5</text>
<text x="220.70" y="106.10" font-size="8.2" text-anchor="middle" fill="#1e1e1e" color="#1e1e1e" >Rule</text>
<text x="195.60" y="116.00" font-size="7.6" textLength="39.40" lengthAdjust="spacingAndGlyphs" fill="#1e1e1e" color="#1e1e1e" >Prospective</text>
<text x="195.60" y="124.60" font-size="7.6" textLength="45.40" lengthAdjust="spacingAndGlyphs" fill="#1e1e1e" color="#1e1e1e" >configuration</text>
<text x="195.80" y="140.60" font-size="7.6" textLength="57.40" lengthAdjust="spacingAndGlyphs" fill="#1e1e1e" color="#1e1e1e" >Backpropagation</text>
<text x="291.60" y="10.30" font-size="12.5" font-weight="bold" fill="#000" color="#000" >b</text>
<text x="307.60" y="21.60" font-size="8.6" textLength="24.60" lengthAdjust="spacingAndGlyphs" fill="#161616" color="#161616" >Target</text>
<text x="350.40" y="21.50" font-size="8.6" textLength="91.60" lengthAdjust="spacingAndGlyphs" fill="#161616" color="#161616" >Output before learning</text>
<text x="307.60" y="39.00" font-size="8.6" textLength="102.80" lengthAdjust="spacingAndGlyphs" fill="#161616" color="#161616" >Target alignment = cosine</text>
<text x="358.00" y="66.60" font-size="8.6" textLength="84.00" lengthAdjust="spacingAndGlyphs" fill="#161616" color="#161616" >Output after learning</text>
<text x="291.60" y="84.60" font-size="12.5" font-weight="bold" fill="#000" color="#000" >c</text>
<text transform="translate(327.40,125.60) rotate(-16)" x="0" y="0" font-size="9.2" textLength="76.50" lengthAdjust="spacingAndGlyphs" fill="#161616" color="#161616" >Lower interference</text>
<text transform="translate(377.00,146.60) rotate(-42.5)" x="0" y="0" font-size="9.2" textLength="77.50" lengthAdjust="spacingAndGlyphs" fill="#161616" color="#161616" >Higher interference</text>
<text x="475.60" y="10.30" font-size="12.5" font-weight="bold" fill="#000" color="#000" >d</text>
<text x="489.15" y="21.00" font-size="7.9" textLength="16.45" lengthAdjust="spacingAndGlyphs" fill="#333333" color="#333333" >1.00</text>
<text x="489.15" y="68.70" font-size="7.9" textLength="16.45" lengthAdjust="spacingAndGlyphs" fill="#333333" color="#333333" >0.90</text>
<text x="489.15" y="116.30" font-size="7.9" textLength="16.45" lengthAdjust="spacingAndGlyphs" fill="#333333" color="#333333" >0.80</text>
<text x="510.45" y="134.70" font-size="7.9" textLength="4.70" lengthAdjust="spacingAndGlyphs" fill="#333333" color="#333333" >0</text>
<text x="543.82" y="134.70" font-size="7.9" textLength="11.75" lengthAdjust="spacingAndGlyphs" fill="#333333" color="#333333" >0.5</text>
<text x="580.22" y="134.70" font-size="7.9" textLength="11.75" lengthAdjust="spacingAndGlyphs" fill="#333333" color="#333333" >1.0</text>
<text x="516.40" y="145.10" font-size="8.5" textLength="65.80" lengthAdjust="spacingAndGlyphs" fill="#1e1e1e" color="#1e1e1e" >Incorrect output</text>
<text transform="translate(483.80,72.00) rotate(-90)" x="0" y="0" font-size="8.5" text-anchor="middle" textLength="59.20" lengthAdjust="spacingAndGlyphs" fill="#1e1e1e" color="#1e1e1e" >Correct output</text>
<text x="499.00" y="43.70" font-size="7.7" textLength="21.40" lengthAdjust="spacingAndGlyphs" fill="#1a1a1a" color="#1a1a1a" >Target</text>
<text x="542.20" y="43.60" font-size="7.7" textLength="62.00" lengthAdjust="spacingAndGlyphs" fill="#1a1a1a" color="#1a1a1a" >Current prediction</text>
<text x="610.20" y="23.70" font-size="7.6" textLength="52.60" lengthAdjust="spacingAndGlyphs" fill="#1e1e1e" color="#1e1e1e" >Learning rate</text>
<text x="626.00" y="36.20" font-size="7.6" textLength="20.92" lengthAdjust="spacingAndGlyphs" fill="#333333" color="#333333" >0.005</text>
<text x="626.00" y="48.50" font-size="7.6" textLength="20.92" lengthAdjust="spacingAndGlyphs" fill="#333333" color="#333333" >0.010</text>
<text x="626.00" y="60.80" font-size="7.6" textLength="20.92" lengthAdjust="spacingAndGlyphs" fill="#333333" color="#333333" >0.050</text>
<text x="626.00" y="73.10" font-size="7.6" textLength="20.92" lengthAdjust="spacingAndGlyphs" fill="#333333" color="#333333" >0.100</text>
<text x="640.40" y="90.70" font-size="8.2" text-anchor="middle" fill="#1e1e1e" color="#1e1e1e" >Rule</text>
<text x="614.50" y="101.40" font-size="7.6" textLength="39.40" lengthAdjust="spacingAndGlyphs" fill="#1e1e1e" color="#1e1e1e" >Prospective</text>
<text x="614.50" y="109.90" font-size="7.6" textLength="45.40" lengthAdjust="spacingAndGlyphs" fill="#1e1e1e" color="#1e1e1e" >configuration</text>
<text x="614.60" y="125.60" font-size="7.6" textLength="57.60" lengthAdjust="spacingAndGlyphs" fill="#1e1e1e" color="#1e1e1e" >Backpropagation</text>
<text x="0.00" y="170.70" font-size="12.5" font-weight="bold" fill="#000" color="#000" >e</text>
<text x="14.85" y="180.80" font-size="7.9" textLength="11.75" lengthAdjust="spacingAndGlyphs" fill="#333333" color="#333333" >1.0</text>
<text x="14.85" y="210.20" font-size="7.9" textLength="11.75" lengthAdjust="spacingAndGlyphs" fill="#333333" color="#333333" >0.8</text>
<text x="14.85" y="239.40" font-size="7.9" textLength="11.75" lengthAdjust="spacingAndGlyphs" fill="#333333" color="#333333" >0.6</text>
<text x="14.85" y="268.30" font-size="7.9" textLength="11.75" lengthAdjust="spacingAndGlyphs" fill="#333333" color="#333333" >0.4</text>
<text x="28.25" y="292.80" font-size="7.9" textLength="4.70" lengthAdjust="spacingAndGlyphs" fill="#333333" color="#333333" >0</text>
<text x="63.30" y="292.80" font-size="7.9" textLength="9.40" lengthAdjust="spacingAndGlyphs" fill="#333333" color="#333333" >10</text>
<text x="100.60" y="292.80" font-size="7.9" textLength="9.40" lengthAdjust="spacingAndGlyphs" fill="#333333" color="#333333" >20</text>
<text x="42.00" y="304.50" font-size="8.5" textLength="69.20" lengthAdjust="spacingAndGlyphs" fill="#1e1e1e" color="#1e1e1e" >Number of layers</text>
<text transform="translate(8.30,228.30) rotate(-90)" x="0" y="0" font-size="8.5" text-anchor="middle" textLength="69.00" lengthAdjust="spacingAndGlyphs" fill="#1e1e1e" color="#1e1e1e" >Target alignment</text>
<text x="176.50" y="178.80" font-size="8.6" text-anchor="middle" fill="#1e1e1e" color="#1e1e1e" >Rule</text>
<text x="157.40" y="191.90" font-size="7.6" textLength="39.60" lengthAdjust="spacingAndGlyphs" fill="#1e1e1e" color="#1e1e1e" >Prospective</text>
<text x="157.40" y="200.10" font-size="7.6" textLength="45.50" lengthAdjust="spacingAndGlyphs" fill="#1e1e1e" color="#1e1e1e" >configuration</text>
<text x="157.50" y="214.70" font-size="7.6" textLength="57.60" lengthAdjust="spacingAndGlyphs" fill="#1e1e1e" color="#1e1e1e" >Backpropagation</text>
<text x="241.00" y="170.70" font-size="12.5" font-weight="bold" fill="#000" color="#000" >f</text>
<text x="254.45" y="196.10" font-size="7.9" textLength="11.75" lengthAdjust="spacingAndGlyphs" fill="#333333" color="#333333" >0.8</text>
<text x="254.45" y="224.60" font-size="7.9" textLength="11.75" lengthAdjust="spacingAndGlyphs" fill="#333333" color="#333333" >0.6</text>
<text x="254.45" y="252.90" font-size="7.9" textLength="11.75" lengthAdjust="spacingAndGlyphs" fill="#333333" color="#333333" >0.4</text>
<text x="254.45" y="281.20" font-size="7.9" textLength="11.75" lengthAdjust="spacingAndGlyphs" fill="#333333" color="#333333" >0.2</text>
<text x="271.15" y="292.50" font-size="7.9" textLength="4.70" lengthAdjust="spacingAndGlyphs" fill="#333333" color="#333333" >0</text>
<text x="299.30" y="292.50" font-size="7.9" textLength="9.40" lengthAdjust="spacingAndGlyphs" fill="#333333" color="#333333" >20</text>
<text x="329.90" y="292.50" font-size="7.9" textLength="9.40" lengthAdjust="spacingAndGlyphs" fill="#333333" color="#333333" >40</text>
<text x="360.60" y="292.50" font-size="7.9" textLength="9.40" lengthAdjust="spacingAndGlyphs" fill="#333333" color="#333333" >60</text>
<text x="293.80" y="303.60" font-size="8.5" textLength="59.40" lengthAdjust="spacingAndGlyphs" fill="#1e1e1e" color="#1e1e1e" >Training epoch</text>
<text transform="translate(248.20,229.00) rotate(-90)" x="0" y="0" font-size="8.5" text-anchor="middle" textLength="38.20" lengthAdjust="spacingAndGlyphs" fill="#1e1e1e" color="#1e1e1e" >Test error</text>
<text x="403.80" y="170.80" font-size="12.5" font-weight="bold" fill="#000" color="#000" >g</text>
<text x="417.65" y="180.40" font-size="7.9" textLength="11.75" lengthAdjust="spacingAndGlyphs" fill="#333333" color="#333333" >1.0</text>
<text x="417.65" y="207.10" font-size="7.9" textLength="11.75" lengthAdjust="spacingAndGlyphs" fill="#333333" color="#333333" >0.8</text>
<text x="417.65" y="234.30" font-size="7.9" textLength="11.75" lengthAdjust="spacingAndGlyphs" fill="#333333" color="#333333" >0.6</text>
<text x="417.65" y="261.20" font-size="7.9" textLength="11.75" lengthAdjust="spacingAndGlyphs" fill="#333333" color="#333333" >0.4</text>
<text x="448.80" y="291.30" font-size="7.4" textLength="8.20" lengthAdjust="spacingAndGlyphs" fill="#333333" color="#333333" >10</text>
<text x="457.00" y="287.00" font-size="5.4" fill="#333333" color="#333333" >−4</text>
<text x="478.00" y="291.30" font-size="7.4" textLength="8.20" lengthAdjust="spacingAndGlyphs" fill="#333333" color="#333333" >10</text>
<text x="486.20" y="287.00" font-size="5.4" fill="#333333" color="#333333" >−2</text>
<text x="507.20" y="291.30" font-size="7.4" textLength="8.20" lengthAdjust="spacingAndGlyphs" fill="#333333" color="#333333" >10</text>
<text x="515.40" y="287.00" font-size="5.4" fill="#333333" color="#333333" >0</text>
<text x="455.40" y="302.40" font-size="8.5" textLength="52.60" lengthAdjust="spacingAndGlyphs" fill="#1e1e1e" color="#1e1e1e" >Learning rate</text>
<text transform="translate(411.60,225.30) rotate(-90)" x="0" y="0" font-size="8.5" text-anchor="middle" textLength="68.60" lengthAdjust="spacingAndGlyphs" fill="#1e1e1e" color="#1e1e1e" >Mean of test error</text>
<text x="550.40" y="171.00" font-size="12.5" font-weight="bold" fill="#000" color="#000" >h</text>
<text x="563.95" y="181.60" font-size="7.9" textLength="16.45" lengthAdjust="spacingAndGlyphs" fill="#333333" color="#333333" >0.55</text>
<text x="563.95" y="199.62" font-size="7.9" textLength="16.45" lengthAdjust="spacingAndGlyphs" fill="#333333" color="#333333" >0.50</text>
<text x="563.95" y="217.65" font-size="7.9" textLength="16.45" lengthAdjust="spacingAndGlyphs" fill="#333333" color="#333333" >0.45</text>
<text x="563.95" y="235.68" font-size="7.9" textLength="16.45" lengthAdjust="spacingAndGlyphs" fill="#333333" color="#333333" >0.40</text>
<text x="563.95" y="253.70" font-size="7.9" textLength="16.45" lengthAdjust="spacingAndGlyphs" fill="#333333" color="#333333" >0.35</text>
<text x="563.95" y="271.73" font-size="7.9" textLength="16.45" lengthAdjust="spacingAndGlyphs" fill="#333333" color="#333333" >0.30</text>
<text x="585.35" y="292.90" font-size="7.9" textLength="4.70" lengthAdjust="spacingAndGlyphs" fill="#333333" color="#333333" >1</text>
<text x="616.75" y="292.90" font-size="7.9" textLength="4.70" lengthAdjust="spacingAndGlyphs" fill="#333333" color="#333333" >5</text>
<text x="645.80" y="292.90" font-size="7.9" textLength="9.40" lengthAdjust="spacingAndGlyphs" fill="#333333" color="#333333" >10</text>
<text x="671.60" y="292.90" font-size="7.9" textLength="9.40" lengthAdjust="spacingAndGlyphs" fill="#333333" color="#333333" >15</text>
<text x="599.60" y="304.60" font-size="8.5" textLength="68.60" lengthAdjust="spacingAndGlyphs" fill="#1e1e1e" color="#1e1e1e" >Number of layers</text>
<text transform="translate(558.60,229.20) rotate(-90)" x="0" y="0" font-size="8.5" text-anchor="middle" textLength="69.80" lengthAdjust="spacingAndGlyphs" fill="#1e1e1e" color="#1e1e1e" >Mean of test error</text></svg>
</body></html>
